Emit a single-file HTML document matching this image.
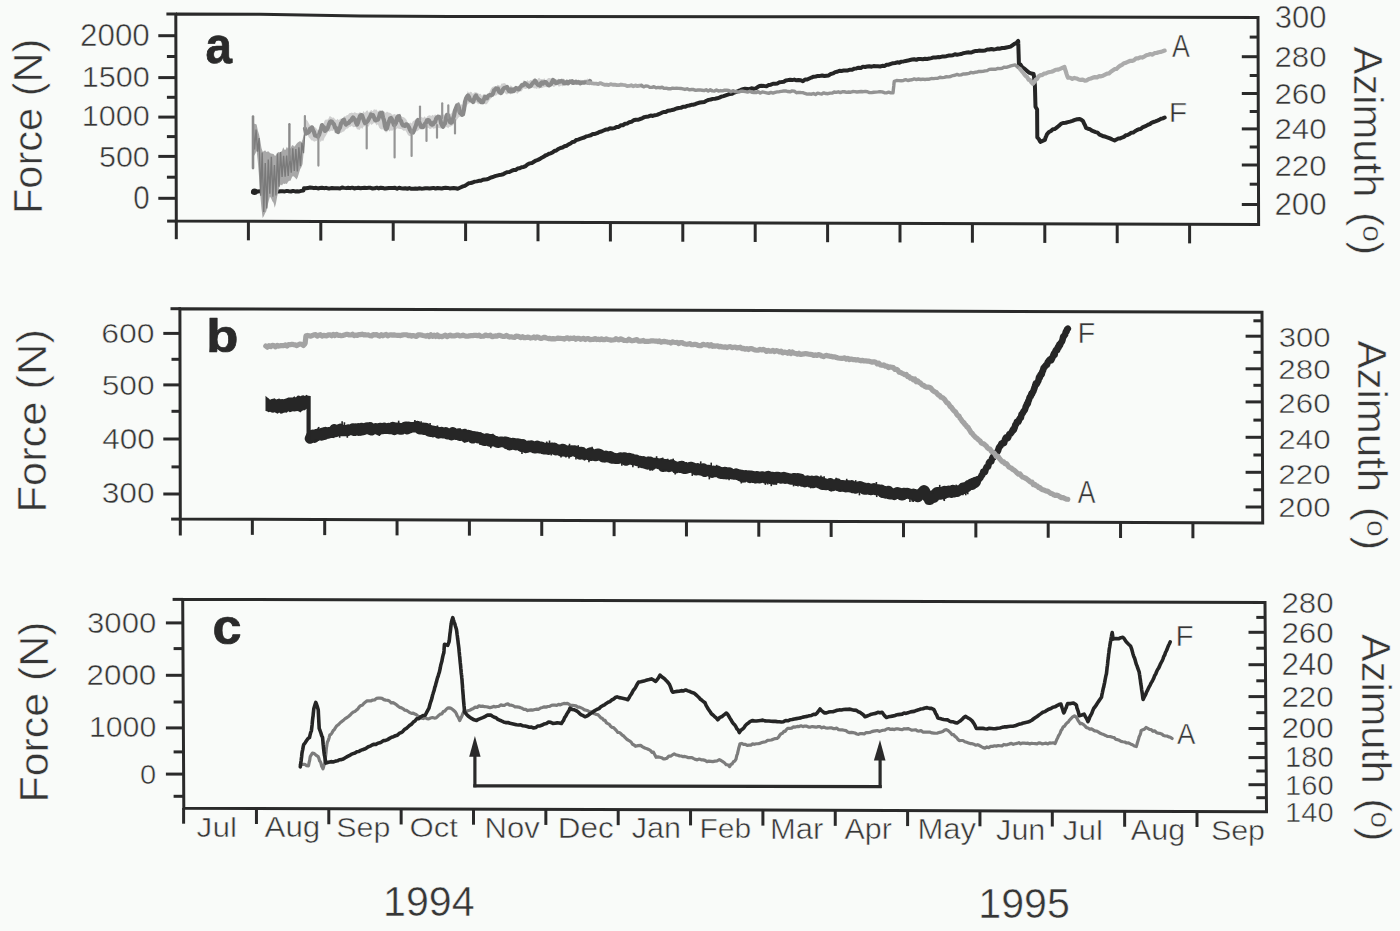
<!DOCTYPE html>
<html><head><meta charset="utf-8"><title>Force and azimuth records</title>
<style>
html,body{margin:0;padding:0;background:#f9fbf9;}
body{width:1400px;height:931px;overflow:hidden;}
svg{display:block;}
text{font-family:"Liberation Sans",sans-serif;font-kerning:none;stroke:#f9fbf9;stroke-width:0.5px;stroke-linejoin:round;}
</style></head><body>
<svg width="1400" height="931" viewBox="0 0 1400 931">
<rect x="0" y="0" width="1400" height="931" fill="#f9fbf9"/>
<polyline points="176,14.0 260,14.3 360,15.9 450,16.4 820,16.7 1060,17.0 1258,17.6 1258.6,224.6 176.3,221.1 175.8,14.0" fill="none" stroke="#2a2a2a" stroke-width="3" stroke-linejoin="miter"/>
<line x1="166.4" y1="14" x2="177" y2="14" stroke="#2a2a2a" stroke-width="3" stroke-linecap="butt"/>
<line x1="167.1" y1="221.1" x2="177" y2="221.1" stroke="#2a2a2a" stroke-width="3" stroke-linecap="butt"/>
<line x1="176.3" y1="221" x2="176.3" y2="239.2" stroke="#2a2a2a" stroke-width="3" stroke-linecap="butt"/>
<line x1="158.3" y1="35.7" x2="176" y2="35.7" stroke="#2a2a2a" stroke-width="3" stroke-linecap="butt"/>
<line x1="158.3" y1="77.6" x2="176" y2="77.6" stroke="#2a2a2a" stroke-width="3" stroke-linecap="butt"/>
<line x1="158.3" y1="117.1" x2="176" y2="117.1" stroke="#2a2a2a" stroke-width="3" stroke-linecap="butt"/>
<line x1="158.3" y1="156.4" x2="176" y2="156.4" stroke="#2a2a2a" stroke-width="3" stroke-linecap="butt"/>
<line x1="158.3" y1="198.3" x2="176" y2="198.3" stroke="#2a2a2a" stroke-width="3" stroke-linecap="butt"/>
<line x1="166.9" y1="56.5" x2="176" y2="56.5" stroke="#2a2a2a" stroke-width="3" stroke-linecap="butt"/>
<line x1="166.9" y1="97.3" x2="176" y2="97.3" stroke="#2a2a2a" stroke-width="3" stroke-linecap="butt"/>
<line x1="166.9" y1="136.6" x2="176" y2="136.6" stroke="#2a2a2a" stroke-width="3" stroke-linecap="butt"/>
<line x1="166.9" y1="177.2" x2="176" y2="177.2" stroke="#2a2a2a" stroke-width="3" stroke-linecap="butt"/>
<line x1="1241.8" y1="56.7" x2="1258" y2="56.7" stroke="#2a2a2a" stroke-width="3" stroke-linecap="butt"/>
<line x1="1241.8" y1="93.5" x2="1258" y2="93.5" stroke="#2a2a2a" stroke-width="3" stroke-linecap="butt"/>
<line x1="1241.8" y1="128.9" x2="1258" y2="128.9" stroke="#2a2a2a" stroke-width="3" stroke-linecap="butt"/>
<line x1="1241.8" y1="165" x2="1258" y2="165" stroke="#2a2a2a" stroke-width="3" stroke-linecap="butt"/>
<line x1="1241.8" y1="204.5" x2="1258" y2="204.5" stroke="#2a2a2a" stroke-width="3" stroke-linecap="butt"/>
<line x1="1249.7" y1="37.1" x2="1258" y2="37.1" stroke="#2a2a2a" stroke-width="3" stroke-linecap="butt"/>
<line x1="1249.7" y1="75.5" x2="1258" y2="75.5" stroke="#2a2a2a" stroke-width="3" stroke-linecap="butt"/>
<line x1="1249.7" y1="111.5" x2="1258" y2="111.5" stroke="#2a2a2a" stroke-width="3" stroke-linecap="butt"/>
<line x1="1249.7" y1="147" x2="1258" y2="147" stroke="#2a2a2a" stroke-width="3" stroke-linecap="butt"/>
<line x1="1249.7" y1="184.2" x2="1258" y2="184.2" stroke="#2a2a2a" stroke-width="3" stroke-linecap="butt"/>
<line x1="248.4" y1="221.33" x2="248.4" y2="240.33" stroke="#2a2a2a" stroke-width="3" stroke-linecap="butt"/>
<line x1="320.8" y1="221.57" x2="320.8" y2="240.57" stroke="#2a2a2a" stroke-width="3" stroke-linecap="butt"/>
<line x1="393.2" y1="221.8" x2="393.2" y2="240.8" stroke="#2a2a2a" stroke-width="3" stroke-linecap="butt"/>
<line x1="465.6" y1="222.04" x2="465.6" y2="241.04" stroke="#2a2a2a" stroke-width="3" stroke-linecap="butt"/>
<line x1="538" y1="222.27" x2="538" y2="241.27" stroke="#2a2a2a" stroke-width="3" stroke-linecap="butt"/>
<line x1="610.4" y1="222.5" x2="610.4" y2="241.5" stroke="#2a2a2a" stroke-width="3" stroke-linecap="butt"/>
<line x1="682.8" y1="222.74" x2="682.8" y2="241.74" stroke="#2a2a2a" stroke-width="3" stroke-linecap="butt"/>
<line x1="755.2" y1="222.97" x2="755.2" y2="241.97" stroke="#2a2a2a" stroke-width="3" stroke-linecap="butt"/>
<line x1="827.6" y1="223.21" x2="827.6" y2="242.21" stroke="#2a2a2a" stroke-width="3" stroke-linecap="butt"/>
<line x1="900" y1="223.44" x2="900" y2="242.44" stroke="#2a2a2a" stroke-width="3" stroke-linecap="butt"/>
<line x1="972.4" y1="223.67" x2="972.4" y2="242.67" stroke="#2a2a2a" stroke-width="3" stroke-linecap="butt"/>
<line x1="1044.8" y1="223.91" x2="1044.8" y2="242.91" stroke="#2a2a2a" stroke-width="3" stroke-linecap="butt"/>
<line x1="1117.2" y1="224.14" x2="1117.2" y2="243.14" stroke="#2a2a2a" stroke-width="3" stroke-linecap="butt"/>
<line x1="1189.6" y1="224.38" x2="1189.6" y2="243.38" stroke="#2a2a2a" stroke-width="3" stroke-linecap="butt"/>
<polygon points="179.9,308.7 1262,312.2 1262.7,523 180.3,519.1" fill="none" stroke="#2a2a2a" stroke-width="3" stroke-linejoin="miter"/>
<line x1="170.5" y1="308.7" x2="181" y2="308.7" stroke="#2a2a2a" stroke-width="3" stroke-linecap="butt"/>
<line x1="171.1" y1="519.1" x2="181" y2="519.1" stroke="#2a2a2a" stroke-width="3" stroke-linecap="butt"/>
<line x1="180.3" y1="519" x2="180.3" y2="535.5" stroke="#2a2a2a" stroke-width="3" stroke-linecap="butt"/>
<line x1="163.3" y1="333.4" x2="180" y2="333.4" stroke="#2a2a2a" stroke-width="3" stroke-linecap="butt"/>
<line x1="163.3" y1="384.9" x2="180" y2="384.9" stroke="#2a2a2a" stroke-width="3" stroke-linecap="butt"/>
<line x1="163.3" y1="439" x2="180" y2="439" stroke="#2a2a2a" stroke-width="3" stroke-linecap="butt"/>
<line x1="163.3" y1="494" x2="180" y2="494" stroke="#2a2a2a" stroke-width="3" stroke-linecap="butt"/>
<line x1="171.5" y1="359.3" x2="180" y2="359.3" stroke="#2a2a2a" stroke-width="3" stroke-linecap="butt"/>
<line x1="171.5" y1="411.3" x2="180" y2="411.3" stroke="#2a2a2a" stroke-width="3" stroke-linecap="butt"/>
<line x1="171.5" y1="466.9" x2="180" y2="466.9" stroke="#2a2a2a" stroke-width="3" stroke-linecap="butt"/>
<line x1="1245.6" y1="336.2" x2="1262" y2="336.2" stroke="#2a2a2a" stroke-width="3" stroke-linecap="butt"/>
<line x1="1245.6" y1="368.8" x2="1262" y2="368.8" stroke="#2a2a2a" stroke-width="3" stroke-linecap="butt"/>
<line x1="1245.6" y1="401.9" x2="1262" y2="401.9" stroke="#2a2a2a" stroke-width="3" stroke-linecap="butt"/>
<line x1="1245.6" y1="437.3" x2="1262" y2="437.3" stroke="#2a2a2a" stroke-width="3" stroke-linecap="butt"/>
<line x1="1245.6" y1="472.3" x2="1262" y2="472.3" stroke="#2a2a2a" stroke-width="3" stroke-linecap="butt"/>
<line x1="1245.6" y1="507" x2="1262" y2="507" stroke="#2a2a2a" stroke-width="3" stroke-linecap="butt"/>
<line x1="1253.4" y1="320.8" x2="1262" y2="320.8" stroke="#2a2a2a" stroke-width="3" stroke-linecap="butt"/>
<line x1="1253.4" y1="352.3" x2="1262" y2="352.3" stroke="#2a2a2a" stroke-width="3" stroke-linecap="butt"/>
<line x1="1253.4" y1="385.3" x2="1262" y2="385.3" stroke="#2a2a2a" stroke-width="3" stroke-linecap="butt"/>
<line x1="1253.4" y1="420.1" x2="1262" y2="420.1" stroke="#2a2a2a" stroke-width="3" stroke-linecap="butt"/>
<line x1="1253.4" y1="455" x2="1262" y2="455" stroke="#2a2a2a" stroke-width="3" stroke-linecap="butt"/>
<line x1="1253.4" y1="489.8" x2="1262" y2="489.8" stroke="#2a2a2a" stroke-width="3" stroke-linecap="butt"/>
<line x1="252.35" y1="519.36" x2="252.35" y2="534.86" stroke="#2a2a2a" stroke-width="3" stroke-linecap="butt"/>
<line x1="324.7" y1="519.62" x2="324.7" y2="535.12" stroke="#2a2a2a" stroke-width="3" stroke-linecap="butt"/>
<line x1="397.05" y1="519.88" x2="397.05" y2="535.38" stroke="#2a2a2a" stroke-width="3" stroke-linecap="butt"/>
<line x1="469.4" y1="520.14" x2="469.4" y2="535.64" stroke="#2a2a2a" stroke-width="3" stroke-linecap="butt"/>
<line x1="541.75" y1="520.4" x2="541.75" y2="535.9" stroke="#2a2a2a" stroke-width="3" stroke-linecap="butt"/>
<line x1="614.1" y1="520.66" x2="614.1" y2="536.16" stroke="#2a2a2a" stroke-width="3" stroke-linecap="butt"/>
<line x1="686.45" y1="520.92" x2="686.45" y2="536.42" stroke="#2a2a2a" stroke-width="3" stroke-linecap="butt"/>
<line x1="758.8" y1="521.18" x2="758.8" y2="536.68" stroke="#2a2a2a" stroke-width="3" stroke-linecap="butt"/>
<line x1="831.15" y1="521.45" x2="831.15" y2="536.95" stroke="#2a2a2a" stroke-width="3" stroke-linecap="butt"/>
<line x1="903.5" y1="521.71" x2="903.5" y2="537.21" stroke="#2a2a2a" stroke-width="3" stroke-linecap="butt"/>
<line x1="975.85" y1="521.97" x2="975.85" y2="537.47" stroke="#2a2a2a" stroke-width="3" stroke-linecap="butt"/>
<line x1="1048.2" y1="522.23" x2="1048.2" y2="537.73" stroke="#2a2a2a" stroke-width="3" stroke-linecap="butt"/>
<line x1="1120.55" y1="522.49" x2="1120.55" y2="537.99" stroke="#2a2a2a" stroke-width="3" stroke-linecap="butt"/>
<line x1="1192.9" y1="522.75" x2="1192.9" y2="538.25" stroke="#2a2a2a" stroke-width="3" stroke-linecap="butt"/>
<polygon points="182.7,599.4 1265,602.5 1266.5,811.7 183.8,808.3" fill="none" stroke="#2a2a2a" stroke-width="3" stroke-linejoin="miter"/>
<line x1="172.6" y1="599.4" x2="183" y2="599.4" stroke="#2a2a2a" stroke-width="3" stroke-linecap="butt"/>
<line x1="183.6" y1="808" x2="183.6" y2="823.7" stroke="#2a2a2a" stroke-width="3" stroke-linecap="butt"/>
<line x1="165.9" y1="622.9" x2="183" y2="622.9" stroke="#2a2a2a" stroke-width="3" stroke-linecap="butt"/>
<line x1="165.9" y1="675.3" x2="183" y2="675.3" stroke="#2a2a2a" stroke-width="3" stroke-linecap="butt"/>
<line x1="165.9" y1="727.9" x2="183" y2="727.9" stroke="#2a2a2a" stroke-width="3" stroke-linecap="butt"/>
<line x1="165.9" y1="774.1" x2="183" y2="774.1" stroke="#2a2a2a" stroke-width="3" stroke-linecap="butt"/>
<line x1="173.6" y1="648.6" x2="183" y2="648.6" stroke="#2a2a2a" stroke-width="3" stroke-linecap="butt"/>
<line x1="173.6" y1="702" x2="183" y2="702" stroke="#2a2a2a" stroke-width="3" stroke-linecap="butt"/>
<line x1="173.6" y1="751.9" x2="183" y2="751.9" stroke="#2a2a2a" stroke-width="3" stroke-linecap="butt"/>
<line x1="173.6" y1="796.3" x2="183" y2="796.3" stroke="#2a2a2a" stroke-width="3" stroke-linecap="butt"/>
<line x1="1248.5" y1="632.3" x2="1265.5" y2="632.3" stroke="#2a2a2a" stroke-width="3" stroke-linecap="butt"/>
<line x1="1248.5" y1="664.7" x2="1265.5" y2="664.7" stroke="#2a2a2a" stroke-width="3" stroke-linecap="butt"/>
<line x1="1248.5" y1="696.6" x2="1265.5" y2="696.6" stroke="#2a2a2a" stroke-width="3" stroke-linecap="butt"/>
<line x1="1248.5" y1="728.5" x2="1265.5" y2="728.5" stroke="#2a2a2a" stroke-width="3" stroke-linecap="butt"/>
<line x1="1248.5" y1="757.6" x2="1265.5" y2="757.6" stroke="#2a2a2a" stroke-width="3" stroke-linecap="butt"/>
<line x1="1248.5" y1="784.7" x2="1265.5" y2="784.7" stroke="#2a2a2a" stroke-width="3" stroke-linecap="butt"/>
<line x1="1256.3" y1="617.4" x2="1265.5" y2="617.4" stroke="#2a2a2a" stroke-width="3" stroke-linecap="butt"/>
<line x1="1256.3" y1="648.2" x2="1265.5" y2="648.2" stroke="#2a2a2a" stroke-width="3" stroke-linecap="butt"/>
<line x1="1256.3" y1="680.8" x2="1265.5" y2="680.8" stroke="#2a2a2a" stroke-width="3" stroke-linecap="butt"/>
<line x1="1256.3" y1="712.7" x2="1265.5" y2="712.7" stroke="#2a2a2a" stroke-width="3" stroke-linecap="butt"/>
<line x1="1256.3" y1="743.4" x2="1265.5" y2="743.4" stroke="#2a2a2a" stroke-width="3" stroke-linecap="butt"/>
<line x1="1256.3" y1="771" x2="1265.5" y2="771" stroke="#2a2a2a" stroke-width="3" stroke-linecap="butt"/>
<line x1="1256.3" y1="797.7" x2="1265.5" y2="797.7" stroke="#2a2a2a" stroke-width="3" stroke-linecap="butt"/>
<line x1="256.45" y1="808.53" x2="256.45" y2="824.03" stroke="#2a2a2a" stroke-width="3" stroke-linecap="butt"/>
<line x1="328.8" y1="808.76" x2="328.8" y2="824.26" stroke="#2a2a2a" stroke-width="3" stroke-linecap="butt"/>
<line x1="401.15" y1="808.98" x2="401.15" y2="824.48" stroke="#2a2a2a" stroke-width="3" stroke-linecap="butt"/>
<line x1="473.5" y1="809.21" x2="473.5" y2="824.71" stroke="#2a2a2a" stroke-width="3" stroke-linecap="butt"/>
<line x1="545.85" y1="809.44" x2="545.85" y2="824.94" stroke="#2a2a2a" stroke-width="3" stroke-linecap="butt"/>
<line x1="618.2" y1="809.66" x2="618.2" y2="825.16" stroke="#2a2a2a" stroke-width="3" stroke-linecap="butt"/>
<line x1="690.55" y1="809.89" x2="690.55" y2="825.39" stroke="#2a2a2a" stroke-width="3" stroke-linecap="butt"/>
<line x1="762.9" y1="810.12" x2="762.9" y2="825.62" stroke="#2a2a2a" stroke-width="3" stroke-linecap="butt"/>
<line x1="835.25" y1="810.35" x2="835.25" y2="825.85" stroke="#2a2a2a" stroke-width="3" stroke-linecap="butt"/>
<line x1="907.6" y1="810.57" x2="907.6" y2="826.07" stroke="#2a2a2a" stroke-width="3" stroke-linecap="butt"/>
<line x1="979.95" y1="810.8" x2="979.95" y2="826.3" stroke="#2a2a2a" stroke-width="3" stroke-linecap="butt"/>
<line x1="1052.3" y1="811.03" x2="1052.3" y2="826.53" stroke="#2a2a2a" stroke-width="3" stroke-linecap="butt"/>
<line x1="1124.65" y1="811.25" x2="1124.65" y2="826.75" stroke="#2a2a2a" stroke-width="3" stroke-linecap="butt"/>
<line x1="1197" y1="811.48" x2="1197" y2="826.98" stroke="#2a2a2a" stroke-width="3" stroke-linecap="butt"/>
<text transform="translate(80.12,46) scale(1.0176,1)" font-size="30.79" font-weight="normal" fill="#363636">2000</text>
<text transform="translate(81.67,87.31) scale(1.0325,1)" font-size="29.66" font-weight="normal" fill="#363636">1500</text>
<text transform="translate(81.77,126.22) scale(1.0612,1)" font-size="28.81" font-weight="normal" fill="#363636">1000</text>
<text transform="translate(98.98,166.91) scale(1.0366,1)" font-size="29.38" font-weight="normal" fill="#363636">500</text>
<text transform="translate(133.35,209.28) scale(0.9119,1)" font-size="32.34" font-weight="normal" fill="#363636">0</text>
<text transform="translate(1274.82,28.29) scale(0.9880,1)" font-size="31.36" font-weight="normal" fill="#363636">300</text>
<text transform="translate(1274.43,66.71) scale(1.0378,1)" font-size="30.08" font-weight="normal" fill="#363636">280</text>
<text transform="translate(1274.43,103.61) scale(1.0627,1)" font-size="29.38" font-weight="normal" fill="#363636">260</text>
<text transform="translate(1274.43,138.91) scale(1.0627,1)" font-size="29.38" font-weight="normal" fill="#363636">240</text>
<text transform="translate(1274.43,176.11) scale(1.0378,1)" font-size="30.08" font-weight="normal" fill="#363636">220</text>
<text transform="translate(1274.43,214.7) scale(1.0093,1)" font-size="30.93" font-weight="normal" fill="#363636">200</text>
<text transform="translate(101.28,343.13) scale(1.1439,1)" font-size="27.97" font-weight="normal" fill="#363636">600</text>
<text transform="translate(101.63,394.74) scale(1.1778,1)" font-size="26.98" font-weight="normal" fill="#363636">500</text>
<text transform="translate(102.18,449.1) scale(1.0352,1)" font-size="30.37" font-weight="normal" fill="#363636">400</text>
<text transform="translate(101.69,502.92) scale(1.0960,1)" font-size="28.95" font-weight="normal" fill="#363636">300</text>
<text transform="translate(1278.72,346.63) scale(1.1123,1)" font-size="27.97" font-weight="normal" fill="#363636">300</text>
<text transform="translate(1278.32,379.43) scale(1.1209,1)" font-size="27.97" font-weight="normal" fill="#363636">280</text>
<text transform="translate(1278.32,412.63) scale(1.1209,1)" font-size="27.97" font-weight="normal" fill="#363636">260</text>
<text transform="translate(1278.32,449.03) scale(1.1209,1)" font-size="27.97" font-weight="normal" fill="#363636">240</text>
<text transform="translate(1278.32,484.23) scale(1.1209,1)" font-size="27.97" font-weight="normal" fill="#363636">220</text>
<text transform="translate(1278.32,517.23) scale(1.1209,1)" font-size="27.97" font-weight="normal" fill="#363636">200</text>
<text transform="translate(87.01,633.32) scale(1.0812,1)" font-size="28.81" font-weight="normal" fill="#363636">3000</text>
<text transform="translate(86.62,685.3) scale(1.0366,1)" font-size="30.23" font-weight="normal" fill="#363636">2000</text>
<text transform="translate(88.89,737.41) scale(1.0262,1)" font-size="29.52" font-weight="normal" fill="#363636">1000</text>
<text transform="translate(140.06,783.92) scale(1.0294,1)" font-size="28.25" font-weight="normal" fill="#363636">0</text>
<text transform="translate(1281.42,613.32) scale(1.0879,1)" font-size="28.81" font-weight="normal" fill="#363636">280</text>
<text transform="translate(1281.42,642.61) scale(1.0420,1)" font-size="30.08" font-weight="normal" fill="#363636">260</text>
<text transform="translate(1281.42,675.1) scale(1.0181,1)" font-size="30.79" font-weight="normal" fill="#363636">240</text>
<text transform="translate(1281.42,707.3) scale(1.0323,1)" font-size="30.37" font-weight="normal" fill="#363636">220</text>
<text transform="translate(1281.42,738.3) scale(1.0323,1)" font-size="30.37" font-weight="normal" fill="#363636">200</text>
<text transform="translate(1284.98,767.21) scale(0.9880,1)" font-size="29.52" font-weight="normal" fill="#363636">180</text>
<text transform="translate(1284.98,794.72) scale(1.0222,1)" font-size="28.53" font-weight="normal" fill="#363636">160</text>
<text transform="translate(1284.98,821.53) scale(1.0644,1)" font-size="27.40" font-weight="normal" fill="#363636">140</text>
<text transform="translate(41.8,214.01) rotate(-90) scale(1.0243,1)" font-size="40.55" fill="#363636">Force (N)</text>
<text transform="translate(46.2,512.56) rotate(-90) scale(1.0715,1)" font-size="40.55" fill="#363636">Force (N)</text>
<text transform="translate(48.3,802.52) rotate(-90) scale(1.0582,1)" font-size="40.55" fill="#363636">Force (N)</text>
<text transform="translate(1354.4,46.62) rotate(90) scale(1.0113,1)" font-size="41.28" fill="#363636">Azimuth</text>
<text transform="translate(1354.4,212.21) rotate(90) scale(1.0113,1)" font-size="41.28" fill="#363636">(</text>
<text transform="translate(1354.4,241.29) rotate(90) scale(1.0113,1)" font-size="41.28" fill="#363636">)</text>
<text transform="translate(1363.47,225.14) rotate(90) scale(1.0638,1)" font-size="28.27" fill="#363636">o</text>
<text transform="translate(1358.3,340.52) rotate(90) scale(1.0208,1)" font-size="41.13" fill="#363636">Azimuth</text>
<text transform="translate(1358.3,507.08) rotate(90) scale(1.0208,1)" font-size="41.13" fill="#363636">(</text>
<text transform="translate(1358.3,536.32) rotate(90) scale(1.0208,1)" font-size="41.13" fill="#363636">)</text>
<text transform="translate(1367.34,520.08) rotate(90) scale(1.0738,1)" font-size="28.17" fill="#363636">o</text>
<text transform="translate(1362.2,634.12) rotate(90) scale(1.0079,1)" font-size="41.13" fill="#363636">Azimuth</text>
<text transform="translate(1362.2,798.59) rotate(90) scale(1.0079,1)" font-size="41.13" fill="#363636">(</text>
<text transform="translate(1362.2,827.46) rotate(90) scale(1.0079,1)" font-size="41.13" fill="#363636">)</text>
<text transform="translate(1371.24,811.42) rotate(90) scale(1.0603,1)" font-size="28.17" fill="#363636">o</text>
<text transform="translate(205.4,62.9) scale(0.9321,1)" font-size="51.11" font-weight="bold" fill="#2a2a2a" style="stroke:#2a2a2a;stroke-width:0.7px">a</text>
<text transform="translate(206.13,352.46) scale(1.1598,1)" font-size="45.34" font-weight="bold" fill="#2a2a2a" style="stroke:#2a2a2a;stroke-width:0.7px">b</text>
<text transform="translate(212.46,644.21) scale(1.0377,1)" font-size="50.38" font-weight="bold" fill="#2a2a2a" style="stroke:#2a2a2a;stroke-width:0.7px">c</text>
<text transform="translate(1172.05,57.1) scale(0.8622,1)" font-size="30.96" font-weight="normal" fill="#363636">A</text>
<text transform="translate(1168.72,122.1) scale(1.0683,1)" font-size="28.34" font-weight="normal" fill="#363636">F</text>
<text transform="translate(1077.62,343) scale(0.9564,1)" font-size="30.38" font-weight="normal" fill="#363636">F</text>
<text transform="translate(1077.65,503.2) scale(0.8493,1)" font-size="31.25" font-weight="normal" fill="#363636">A</text>
<text transform="translate(1175.47,645.8) scale(1.0054,1)" font-size="29.51" font-weight="normal" fill="#363636">F</text>
<text transform="translate(1176.95,744) scale(0.9541,1)" font-size="28.92" font-weight="normal" fill="#363636">A</text>
<text transform="translate(196.61,836.6) scale(1.1568,1)" font-size="27.33" font-weight="normal" fill="#363636">Jul</text>
<text transform="translate(264.54,836.87) scale(1.0893,1)" font-size="28.78" font-weight="normal" fill="#363636">Aug</text>
<text transform="translate(336.32,837.13) scale(1.0713,1)" font-size="28.36" font-weight="normal" fill="#363636">Sep</text>
<text transform="translate(409.42,837.39) scale(1.0995,1)" font-size="28.36" font-weight="normal" fill="#363636">Oct</text>
<text transform="translate(484.55,837.68) scale(1.0796,1)" font-size="28.78" font-weight="normal" fill="#363636">Nov</text>
<text transform="translate(557.72,837.94) scale(1.0945,1)" font-size="28.78" font-weight="normal" fill="#363636">Dec</text>
<text transform="translate(631.82,838.19) scale(1.0616,1)" font-size="28.78" font-weight="normal" fill="#363636">Jan</text>
<text transform="translate(699.54,838.45) scale(1.0985,1)" font-size="27.33" font-weight="normal" fill="#363636">Feb</text>
<text transform="translate(770.06,838.71) scale(1.0765,1)" font-size="28.78" font-weight="normal" fill="#363636">Mar</text>
<text transform="translate(844.54,838.96) scale(1.0576,1)" font-size="28.78" font-weight="normal" fill="#363636">Apr</text>
<text transform="translate(917.46,839.25) scale(1.0779,1)" font-size="28.78" font-weight="normal" fill="#363636">May</text>
<text transform="translate(996.12,839.51) scale(1.0616,1)" font-size="28.78" font-weight="normal" fill="#363636">Jun</text>
<text transform="translate(1062.61,839.74) scale(1.1568,1)" font-size="27.33" font-weight="normal" fill="#363636">Jul</text>
<text transform="translate(1130.84,840.01) scale(1.0609,1)" font-size="28.78" font-weight="normal" fill="#363636">Aug</text>
<text transform="translate(1210.92,840.3) scale(1.0713,1)" font-size="28.36" font-weight="normal" fill="#363636">Sep</text>
<text transform="translate(383.06,915.58) scale(0.9501,1)" font-size="43.36" font-weight="normal" fill="#363636">1994</text>
<text transform="translate(978.26,917.88) scale(0.9661,1)" font-size="42.65" font-weight="normal" fill="#363636">1995</text>
<line x1="474.9" y1="756" x2="474.9" y2="787.3" stroke="#2a2a2a" stroke-width="3.2" stroke-linecap="butt"/>
<line x1="473.3" y1="785.8" x2="881.7" y2="786.6" stroke="#2a2a2a" stroke-width="3.2" stroke-linecap="butt"/>
<line x1="880.1" y1="788" x2="880.1" y2="759" stroke="#2a2a2a" stroke-width="3.2" stroke-linecap="butt"/>
<polygon points="474.9,735.9 469.2,756.8 480.6,756.8" fill="#2a2a2a" />
<polygon points="880,739.9 873.9,760.5 885.5,760.5" fill="#2a2a2a" />
<polyline points="252.9,192.09 255.27,192.02 257.63,191.59 260,191.26 262.07,190.98 264.13,191.62 266.2,191.4 268.27,191.66 270.33,191.25 272.4,191.63 274.47,191.11 276.53,191.61 278.6,191.52 280.67,191.18 282.73,191.28 284.8,191.4 286.87,190.88 288.93,191.22 291,191.45 293.07,190.88 295.13,191.4 297.2,191.26 299.27,191.39 301.33,190.86 303.4,190.59 304,188.3 306,188.3 308,187.95 310,187.59 312,187.7 314,188.13 316,187.79 318,188.45 320,188.09 322,187.7 324,188.16 326,187.86 328,188.43 330,188.41 332,188.01 334,188.14 336,188.2 338,188.31 340,188.48 342.04,187.54 344.08,187.88 346.12,188.13 348.16,187.84 350.2,188.13 352.24,187.64 354.28,188.44 356.32,188.09 358.36,187.69 360.4,188.25 362.44,187.91 364.48,187.8 366.52,188.1 368.56,187.76 370.6,187.84 372.64,188.5 374.68,188.34 376.72,187.67 378.76,188.44 380.8,187.69 382.84,188.01 384.88,188.59 386.92,188.32 388.96,188.01 391,188.09 393.04,188.11 395.08,187.86 397.12,188.74 399.16,187.8 401.2,188.18 403.24,188.51 405.28,188.17 407.32,188.76 409.36,188.04 411.4,188.78 413.41,188.69 415.43,188.47 417.44,188.69 419.45,188.25 421.47,188.63 423.48,188.6 425.49,188.32 427.5,188.27 429.52,188.51 431.53,188.21 433.54,187.89 435.56,188.55 437.57,188.07 439.58,188.29 441.6,188.58 443.61,187.97 445.62,187.82 447.63,187.92 449.65,188.39 451.66,188.16 453.67,188.06 455.69,188.25 457.7,188.73 461,187.25 462.9,186.41 464.8,185.88 466.7,184.61 468.6,183.27 470.64,182.97 472.69,182.48 474.73,181.64 476.77,181.38 478.81,180.81 480.86,180.8 482.9,179.82 484.91,179.54 486.93,179.24 488.94,178.58 490.96,177.42 492.97,177.03 494.99,176.13 497,175.6 499.06,175.07 501.11,174.76 503.17,174.29 505.23,173.03 507.29,172.13 509.34,171.96 511.4,170.96 513.44,170.12 515.49,170.05 517.53,168.57 519.57,168.36 521.61,167.19 523.66,166.95 525.7,166.05 527.74,164.25 529.79,163.36 531.83,163.1 533.87,161.76 535.91,160.55 537.96,159.9 540,158.91 541.79,157.69 543.58,156.77 545.36,155.5 547.15,154.86 548.94,153.74 550.72,153.33 552.51,152.41 554.3,151.04 556.34,150.51 558.39,148.97 560.43,147.96 562.47,147.49 564.51,146.29 566.56,145.71 568.6,144.43 570.5,143.53 572.4,141.99 574.3,141.73 576.2,140.02 578.1,139.58 580,138.91 582.15,138.21 584.3,137.49 586.45,136.35 588.6,135.89 590.75,135.29 592.9,133.94 595.03,133.99 597.17,133.21 599.3,131.99 601.43,131.58 603.57,130.5 605.7,129.58 607.85,129.48 610,128.3 612.15,128.5 614.3,128.14 616.45,126.92 618.6,127.04 620.73,125.32 622.87,125.22 625,123.78 627.13,123.6 629.27,122.2 631.4,121.82 633.55,120.3 635.7,119.72 637.85,119.82 640,119.01 642.15,118.27 644.3,117.13 646.43,116.74 648.57,116.4 650.7,115.55 652.83,115.96 654.97,115.2 657.1,114.85 659.25,113.95 661.4,112.94 663.55,112.03 665.7,112.03 667.85,110.76 670,110.55 672.15,109.93 674.3,109.43 676.45,108.48 678.6,107.94 680.75,107.85 682.9,106.83 685.03,106.79 687.17,105.88 689.3,105.48 691.43,104.82 693.57,104.7 695.7,103.99 697.85,103.17 700,102.52 702.15,102.21 704.3,101.91 706.45,100.77 708.6,99.86 710.73,99.48 712.87,98.87 715,98.67 717.13,98.35 719.27,97.6 721.4,96.69 723.55,96.08 725.7,95.38 727.85,94.69 730,93.9 732.15,93.75 734.3,92.55 736.45,91.76 738.6,90.92 740.75,89.95 742.9,89.21 745.05,88.71 747.2,88.93 749.35,89.17 751.5,88.3 753.65,88.69 755.8,88.38 757.67,87.06 759.53,86.04 761.4,85.76 764.4,86.11 766.55,86.15 768.7,84.98 770.85,84.68 773,83.78 775.15,83.73 777.3,83.41 779.45,82.29 781.6,82.07 783.7,81.8 785.8,80.54 787.9,80.1 790,79.72 792.15,80.08 794.3,79.6 796.45,80.31 798.6,79.99 800.75,80.2 802.9,81.28 805.04,79.49 807.18,79.5 809.32,78.47 811.46,77.54 813.6,76.73 815.76,76.47 817.91,75.92 820.07,75.89 822.23,75.46 824.39,75.93 826.54,75.66 828.7,75.49 830.84,73.97 832.98,73.41 835.12,72.13 837.26,71.73 839.4,70.74 841.52,70.92 843.64,70.55 845.76,70.44 847.88,70.46 850,69.69 852.15,69.7 854.3,68.63 856.45,68.47 858.6,67.72 860.75,68.05 862.9,66.63 865.05,67.02 867.2,66.55 869.35,66.17 871.5,66.7 873.65,66.05 875.8,66.27 877.95,66.28 880.1,66.47 882.25,65.84 884.4,66.09 886.55,64.79 888.7,64.72 890.85,63.84 893,63.13 895.12,62.98 897.25,62.31 899.38,62.66 901.5,61.63 903.62,61.41 905.75,60.94 907.88,60.56 910,59.98 912.14,59.58 914.28,59.26 916.42,59.82 918.56,58.93 920.7,59 922.84,59.17 924.98,58.75 927.12,58.93 929.26,58.6 931.4,58.11 933.54,57.4 935.68,57.56 937.83,57.12 939.97,57.2 942.11,56.55 944.25,56.39 946.39,56.19 948.53,55.54 950.67,55.59 952.82,55.33 954.96,54.27 957.1,54.72 959.08,54.37 961.07,54.05 963.05,53.24 965.04,52.85 967.02,52.43 969.01,52.37 970.99,52.56 972.98,51.76 974.96,51.11 976.95,51.1 978.93,50.58 980.92,50.82 982.9,50.67 985.04,50.56 987.18,49.46 989.33,49.48 991.47,48.96 993.61,49.48 995.75,49.14 997.89,48.55 1000.03,48.72 1002.17,48.02 1004.32,48.01 1006.46,47.45 1008.6,47.06 1010.52,46.57 1012.45,45.29 1014.38,43.92 1016.3,43.07 1018.2,40.95 1018.26,43.14 1018.33,44.46 1018.39,46.57 1018.45,48.59 1018.52,51.13 1018.58,53.29 1018.65,54.77 1018.71,57.17 1018.77,58.82 1018.84,61.44 1018.9,63.58 1020.5,64.49 1022.1,66.98 1023.7,68.26 1025.3,69.32 1027.2,71.15 1029.1,72.56 1031.35,73.48 1033.6,74.02 1033.86,75.56 1034.12,77.84 1034.38,80.57 1034.64,83.08 1034.9,85.24 1034.95,86.96 1035.01,88.61 1035.06,91.11 1035.12,92.96 1035.17,95.3 1035.23,97.07 1035.28,99.23 1035.34,101.47 1035.39,103.13 1035.45,105.41 1035.5,106.77 1037.1,109.5 1037.12,112.46 1037.13,113.68 1037.15,116.72 1037.16,118.26 1037.18,119.95 1037.19,122.24 1037.21,124.76 1037.22,126.5 1037.24,128.82 1037.25,130.37 1037.27,133.18 1037.28,134.8 1037.3,137.33 1038.8,139 1040.3,141.87 1042.6,140.82 1044.9,139.9 1045.63,137.42 1046.37,135.83 1047.1,134.04 1049.03,131.97 1050.97,130.98 1052.9,129.21 1054.6,129.05 1056.3,127.89 1058,126.46 1059.7,125.12 1061.4,123.57 1063.55,122.9 1065.7,122.76 1067.85,122.12 1070,121.59 1072.42,120.91 1074.85,119.94 1077.28,119.21 1079.7,118.94 1081.4,119.85 1083.1,121.14 1084.07,123.58 1085.03,125.25 1086,127.88 1088,128.77 1090,129.25 1091.9,130.71 1093.8,131.39 1095.7,132.12 1097.6,132.64 1099.5,134.65 1101.4,135.4 1103.55,136.31 1105.7,136.82 1107.85,137.56 1110,138.41 1112.3,139.51 1114.6,140.5 1116.45,139.51 1118.31,138.57 1120.16,138.39 1122.02,137.52 1123.87,136.85 1125.73,135.34 1127.58,135.01 1129.44,134.03 1131.29,132.68 1133.15,132.62 1135,131.26 1136.86,130.15 1138.72,129.22 1140.58,129.03 1142.44,127.4 1144.3,126.63 1146.16,125.87 1148.02,124.75 1149.88,124.12 1151.74,122.62 1153.6,122.03 1155.45,121.42 1157.3,120.69 1159.15,119.91 1161,118.8 1162.85,118.4 1164.7,117.5" fill="none" stroke="#252525" stroke-width="4" stroke-linejoin="round" stroke-linecap="round" />
<circle cx="254.5" cy="191.8" r="3.3" fill="#252525"/>
<polygon points="253,120.86 254.21,123.78 255.42,124.05 256.63,124.59 257.84,130.41 259.05,134.61 260.26,140.4 261.47,148.01 262.67,151.75 263.88,151.31 265.09,150.36 266.3,152.02 267.51,151.55 268.72,151.46 269.93,152.98 271.14,153.5 272.35,153.73 273.56,153.89 274.77,155.8 275.98,155.62 277.19,153.06 278.4,151.98 279.6,152.41 280.81,151.65 282.02,150.98 283.23,147.26 284.44,149.76 285.65,149.75 286.86,146.8 288.07,148.69 289.28,146.4 290.49,148.69 291.7,145.65 292.91,145.09 294.12,146.68 295.33,145.46 296.53,143.67 297.74,142.6 298.95,141.66 300.16,141.05 301.37,142.42 302.58,139.52 303.79,134.27 305,129.06 305,134.43 303.79,150.43 302.58,164.06 301.37,167.3 300.16,169.19 298.95,173.13 297.74,177.29 296.53,179.49 295.33,178.09 294.12,176.74 292.91,175.98 291.7,177.83 290.49,180.65 289.28,180.67 288.07,181.77 286.86,184.01 285.65,183.54 284.44,183.99 283.23,183.43 282.02,185.57 280.81,184.41 279.6,186.33 278.4,190.64 277.19,196.41 275.98,203.15 274.77,207.75 273.56,202.79 272.35,201.14 271.14,198.26 269.93,196.56 268.72,201.1 267.51,206.12 266.3,211.26 265.09,213.23 263.88,215.93 262.67,217.89 261.47,208.46 260.26,194.56 259.05,176.83 257.84,162.1 256.63,150.78 255.42,153.42 254.21,155.48 253,158.18" fill="#a8a8a8" />
<polyline points="253,123.4 254.53,149.45 256.06,129.45 257.59,151.71 259.12,138.12 260.65,195.68 262.18,152.54 263.71,212.06 265.24,163.04 266.76,208.51 268.29,159.47 269.82,193.74 271.35,156.8 272.88,196.71 274.41,164.95 275.94,195.36 277.47,153.54 279,186.72 280.53,152.09 282.06,176.91 283.59,155.89 285.12,176.79 286.65,155.47 288.18,175.92 289.71,155.42 291.24,172.71 292.76,148.34 294.29,170.97 295.82,149.14 297.35,171.57 298.88,147.19 300.41,166.22 301.94,142.79 303.47,153.23 305,128.47" fill="none" stroke="#7a7a7a" stroke-width="1.4" stroke-linejoin="miter" stroke-linecap="butt" />
<polyline points="253,116.6 253,168.1" fill="none" stroke="#8a8a8a" stroke-width="2.6" stroke-linejoin="round" stroke-linecap="round" />
<polyline points="289.4,124.3 289.4,160" fill="none" stroke="#8a8a8a" stroke-width="2.4" stroke-linejoin="round" stroke-linecap="round" />
<polygon points="305,115.92 306.3,119.75 307.6,121.04 308.9,123.39 310.21,125.45 311.51,125.87 312.81,125.61 314.11,126.74 315.41,127.52 316.71,128.65 318.01,130.49 319.32,129.86 320.62,125.37 321.92,124.56 323.22,124.67 324.52,120.78 325.82,119.58 327.12,119.77 328.42,118.73 329.73,115.88 331.03,116.65 332.33,117.68 333.63,117.49 334.93,118.96 336.23,120.15 337.53,118.73 338.84,120.17 340.14,118.76 341.44,118.73 342.74,119.29 344.04,116.16 345.34,116.58 346.64,115.18 347.95,114.9 349.25,113.26 350.55,112.99 351.85,112.46 353.15,113.28 354.45,112.3 355.75,112.67 357.05,113.36 358.36,113.27 359.66,112.23 360.96,112.58 362.26,113.43 363.56,110.91 364.86,112.91 366.16,111.03 367.47,110.13 368.77,112.66 370.07,110.93 371.37,110.09 372.67,111.32 373.97,109.22 375.27,109.8 376.58,109.48 377.88,111.7 379.18,110.22 380.48,110.5 381.78,111.54 383.08,112.43 384.38,111.5 385.68,112.95 386.99,111.47 388.29,112.52 389.59,112.75 390.89,113.34 392.19,114.64 393.49,114.39 394.79,114.1 396.1,114.93 397.4,113.84 398.7,115.23 400,113.3 401.3,116.19 402.6,116.96 403.9,117.32 405.21,118.3 406.51,119.67 407.81,122.86 409.11,123.13 410.41,122.58 411.71,123.38 413.01,121.09 414.32,120.4 415.62,118.92 416.92,118.51 418.22,119.04 419.52,119.34 420.82,116.4 422.12,117.41 423.42,117.85 424.73,116.34 426.03,118.23 427.33,116.25 428.63,115.54 429.93,115.37 431.23,115.93 432.53,114.63 433.84,115.68 435.14,114.32 436.44,115.85 437.74,113.68 439.04,114.99 440.34,114.52 441.64,115.42 442.95,114.54 444.25,114.7 445.55,114 446.85,113.42 448.15,113.18 449.45,113.26 450.75,113.9 452.05,112.56 453.36,109.18 454.66,108.96 455.96,104.91 457.26,105.32 458.56,104.39 459.86,104.44 461.16,104.35 462.47,104.83 463.77,104.19 465.07,98.76 466.37,97.44 467.67,91.07 468.97,92.91 470.27,91.76 471.58,91.99 472.88,94.06 474.18,92.49 475.48,92.28 476.78,92.53 478.08,93.27 479.38,93.95 480.68,93.84 481.99,96.04 483.29,93.93 484.59,95.4 485.89,95.54 487.19,96.18 488.49,93.47 489.79,91.25 491.1,88.38 492.4,87.07 493.7,86.62 495,86.32 496.3,86.52 497.6,84.84 498.9,85.28 500.21,85.88 501.51,83.45 502.81,83.42 504.11,83.09 505.41,83.45 506.71,85.33 508.01,86.73 509.32,87.06 510.62,85.26 511.92,86.36 513.22,87.57 514.52,87.3 515.82,85.99 517.12,86.24 518.42,86.53 519.73,85.53 521.03,82.78 522.33,82.84 523.63,80.23 524.93,80.79 526.23,81.62 527.53,80 528.84,81.4 530.14,80.1 531.44,80.36 532.74,79.4 534.04,79.31 535.34,78.37 536.64,80.68 537.95,78.42 539.25,77.8 540.55,79.3 541.85,79.04 543.15,79.13 544.45,78.33 545.75,80.39 547.05,78.91 548.36,77.92 549.66,78.01 550.96,78.5 552.26,80.21 553.56,78.4 554.86,78.59 556.16,79.42 557.47,79.58 558.77,78.4 560.07,80.71 561.37,78.34 562.67,78.76 563.97,78.7 565.27,80 566.58,79.94 567.88,81.14 569.18,81.16 570.48,79.8 571.78,80.55 573.08,79.12 574.38,80.58 575.68,80.39 576.99,80.54 578.29,79.32 579.59,81.07 580.89,79.57 582.19,81.11 583.49,80.91 584.79,79.34 586.1,79.64 587.4,78.55 588.7,79.32 590,78.77 590,86 588.7,83.94 587.4,83.79 586.1,83.56 584.79,84.15 583.49,84.6 582.19,83.76 580.89,86.17 579.59,85.61 578.29,83.28 576.99,84.24 575.68,84.99 574.38,84.61 573.08,84.66 571.78,85.3 570.48,84.09 569.18,84.28 567.88,84.64 566.58,84.87 565.27,85.51 563.97,84.35 562.67,86.45 561.37,85.41 560.07,86.28 558.77,86.85 557.47,84.89 556.16,84.97 554.86,86.46 553.56,87.05 552.26,86.12 550.96,86.43 549.66,86.51 548.36,86.9 547.05,87.23 545.75,87 544.45,87.23 543.15,87.46 541.85,88.27 540.55,87.15 539.25,88.91 537.95,87.96 536.64,88.93 535.34,88.32 534.04,88.54 532.74,87.39 531.44,88.31 530.14,87.28 528.84,89.67 527.53,87.84 526.23,88.97 524.93,88.93 523.63,88.15 522.33,90.2 521.03,91.7 519.73,90.74 518.42,92.68 517.12,93.97 515.82,92.1 514.52,93.2 513.22,93.41 511.92,92.64 510.62,94.68 509.32,91.87 508.01,93.91 506.71,94.45 505.41,93.49 504.11,92.35 502.81,92.06 501.51,92.51 500.21,92.87 498.9,95.03 497.6,94.28 496.3,95.4 495,95.72 493.7,95.42 492.4,95.78 491.1,98.32 489.79,99.75 488.49,101.81 487.19,103.75 485.89,104.45 484.59,103.85 483.29,104.55 481.99,104.32 480.68,103.44 479.38,102.98 478.08,104.38 476.78,102.56 475.48,102.79 474.18,104.31 472.88,103.97 471.58,101.67 470.27,103.26 468.97,103.32 467.67,104.13 466.37,106.83 465.07,109.67 463.77,113.06 462.47,116.09 461.16,116.5 459.86,116.62 458.56,117.54 457.26,119.25 455.96,120.97 454.66,121.64 453.36,124.92 452.05,125.73 450.75,126.42 449.45,126.64 448.15,128.13 446.85,126.91 445.55,127.58 444.25,127.47 442.95,127.55 441.64,128.16 440.34,128.49 439.04,127.69 437.74,128.11 436.44,129 435.14,127.88 433.84,129.03 432.53,127.89 431.23,128.59 429.93,129.27 428.63,128.03 427.33,127.78 426.03,127.19 424.73,128.36 423.42,128.62 422.12,128.35 420.82,129.49 419.52,129.34 418.22,130.44 416.92,131.48 415.62,130.74 414.32,133.6 413.01,133.83 411.71,134.87 410.41,136.36 409.11,136.01 407.81,134.81 406.51,132.28 405.21,130.24 403.9,130.91 402.6,129.88 401.3,129.01 400,128.96 398.7,128.74 397.4,128.37 396.1,129.22 394.79,130.4 393.49,129.17 392.19,131.02 390.89,130.23 389.59,131.6 388.29,129.91 386.99,132.36 385.68,132.31 384.38,130.69 383.08,129.34 381.78,129.56 380.48,129.08 379.18,127.65 377.88,124.29 376.58,125.42 375.27,123.24 373.97,123.1 372.67,123.97 371.37,124.94 370.07,123.18 368.77,126.63 367.47,126.02 366.16,124.72 364.86,126.25 363.56,126.56 362.26,129.02 360.96,127.38 359.66,129.88 358.36,129.62 357.05,129.28 355.75,126.9 354.45,127.08 353.15,127.26 351.85,125.83 350.55,126.74 349.25,126.74 347.95,128.42 346.64,128.4 345.34,129.69 344.04,131.62 342.74,131.66 341.44,132.71 340.14,132.9 338.84,133.93 337.53,132.55 336.23,133.01 334.93,133.48 333.63,130.23 332.33,131.12 331.03,130.51 329.73,131.73 328.42,131.24 327.12,133.38 325.82,135.63 324.52,137.77 323.22,141.15 321.92,140.24 320.62,142.23 319.32,139.05 318.01,139.72 316.71,140.71 315.41,141.26 314.11,141.67 312.81,140.43 311.51,140.54 310.21,138.67 308.9,137.61 307.6,135.02 306.3,133.97 305,135.17" fill="#cfcfcf" />
<polyline points="305,128.6 306,133.61 307,132.84 308,132.61 309,131.78 310,128.7 311,129.49 312,127.35 313,130.11 314,132.06 315,135.44 316,135.67 317,135.97 318,136.65 319,135 320,131.9 321,128.8 322,125.09 323,126.59 324,127.19 325,130.89 326,129.98 327,129.46 328,127.36 329,124.06 330,122.03 331,121.36 332,121.73 333,123.35 334,124.28 335,127.68 336,127.79 337,131.36 338,132.04 339,128.77 340,127.59 341,123.45 342,122.32 343,120.15 344,119.77 345,122.99 346,124.64 347,123.63 348,123.13 349,122.82 350,121.04 351,120.78 352,118.71 353,117.42 354,118.62 355,119.68 356,122.51 357,124.6 358,122.83 359,118.98 360,115.99 361,114.99 362,115.26 363,117.95 364,120.8 365,123.08 366,122.7 367,121.71 368,120.44 369,118.49 370,116.9 371,114.54 372,115.31 373,115.02 374,117.34 375,119.86 376,120.37 377,119.35 378,119.64 379,116.95 380,113.36 381,112.9 382,112.7 383,117.51 384,120.13 385,126.35 386,128.94 387,128.27 388,124.32 389,121.58 390,118.57 391,117.87 392,119.64 393,122.19 394,125.08 395,124.65 396,122.73 397,117.85 398,116.67 399,116.12 400,120.36 401,120.85 402,123.88 403,125.42 404,125.53 405,125.92 406,124.27 407,124.58 408,125.72 409,127.36 410,129.96 411,131.52 412,131.96 413,132.59 414,130.5 415,127.83 416,125.31 417,121.62 418,120.04 419,121.55 420,124 421,126.85 422,127.14 423,127.16 424,125.58 425,123.73 426,122.73 427,120.23 428,120.17 429,120.34 430,122.42 431,124.03 432,124.71 433,124.33 434,122.26 435,122.3 436,119 437,117.45 438,116.85 439,116.77 440,117.95 441,122.9 442,125.27 443,126.67 444,124.49 445,123.46 446,117.73 447,114.92 448,115.37 449,118.66 450,122.18 451,122.78 452,122.17 453,118.79 454,115.83 455,110.45 456,107.91 457,105.41 458,105.43 459,107.75 460,112.92 461,113.52 462,114.85 463,114.4 464,109.51 465,101.86 466,98.57 467,96.59 468,95.44 469,96.87 470,99.95 471,100.18 472,100.79 473,101.98 474,99.45 475,96.71 476,95.48 477,97.66 478,98.5 479,100.3 480,100.1 481,102.19 482,102.17 483,102.22 484,99.17 485,96.72 486,97.36 487,98.35 488,96.02 489,95.37 490,95.02 491,95.38 492,94.94 493,93.57 494,90.34 495,89.76 496,88.48 497,88.71 498,88.65 499,91.71 500,92.15 501,93.14 502,91.87 503,89.37 504,88.19 505,87.73 506,87.74 507,86.93 508,89.22 509,91.15 510,91.42 511,89.4 512,91.34 513,89.8 514,90.73 515,88.84 516,87.96 517,88.53 518,89.13 519,89.39 520,87.43 521,86.34 522,85.03 523,85.29 524,84.61 525,83.19 526,84.15 527,84.78 528,85.76 529,86.59 530,86.46 531,85.66 532,84.01 533,82.77 534,82.51 535,80.62 536,81.81 537,83.74 538,84.88 539,84.85 540,85.62 541,82.96 542,82.38 543,83.55 544,82.28 545,81.99 546,82.35 547,83.74 548,84.82 549,85.35 550,84.79 551,84.03 552,82.06 553,79.84 554,81.91 555,81.5 556,83.19 557,82.83 558,82.57 559,81.3 560,81.68 561,81.14 562,81.37 563,81.4 564,83.38 565,83.15 566,83.14 567,81.75 568,83.41 569,82.54 570,81.43 571,81.91 572,81.16 573,82.9 574,82.62 575,82.22 576,81.68 577,82.58 578,82.35 579,82.2 580,83.05 581,82.95 582,82.53 583,82.36 584,82.65 585,82.32 586,82.24 587,82.51 588,82.76 589,82.71 590,81.03" fill="none" stroke="#8a8a8a" stroke-width="4.2" stroke-linejoin="round" stroke-linecap="round" />
<polyline points="304.9,116 304.9,128" fill="none" stroke="#959595" stroke-width="2.2" stroke-linejoin="round" stroke-linecap="round" />
<polyline points="318.4,135 318.4,165.6" fill="none" stroke="#959595" stroke-width="2.2" stroke-linejoin="round" stroke-linecap="round" />
<polyline points="366.7,125 366.7,148.4" fill="none" stroke="#959595" stroke-width="2.2" stroke-linejoin="round" stroke-linecap="round" />
<polyline points="394.6,125 394.6,157.5" fill="none" stroke="#959595" stroke-width="2.2" stroke-linejoin="round" stroke-linecap="round" />
<polyline points="411.6,130 411.6,156" fill="none" stroke="#959595" stroke-width="2.2" stroke-linejoin="round" stroke-linecap="round" />
<polyline points="420,106.5 420,120" fill="none" stroke="#959595" stroke-width="2.2" stroke-linejoin="round" stroke-linecap="round" />
<polyline points="426.5,125 426.5,140.9" fill="none" stroke="#959595" stroke-width="2.2" stroke-linejoin="round" stroke-linecap="round" />
<polyline points="437,125 437,137.7" fill="none" stroke="#959595" stroke-width="2.2" stroke-linejoin="round" stroke-linecap="round" />
<polyline points="442.2,103.3 442.2,118" fill="none" stroke="#959595" stroke-width="2.2" stroke-linejoin="round" stroke-linecap="round" />
<polyline points="448.3,105.4 448.3,118" fill="none" stroke="#959595" stroke-width="2.2" stroke-linejoin="round" stroke-linecap="round" />
<polyline points="455,120 455,133.4" fill="none" stroke="#959595" stroke-width="2.2" stroke-linejoin="round" stroke-linecap="round" />
<polyline points="458.5,103.3 458.5,112" fill="none" stroke="#959595" stroke-width="2.2" stroke-linejoin="round" stroke-linecap="round" />
<polyline points="588,82.57 590.06,82.96 592.12,83.25 594.18,83.68 596.24,83.62 598.3,84.09 600.36,83.06 602.42,83.89 604.48,84.78 606.54,84.59 608.6,85.16 610.66,84.16 612.72,84.76 614.78,84.55 616.84,85.06 618.91,85.2 620.97,84.52 623.03,84.9 625.09,85.09 627.15,86.08 629.21,85.97 631.27,85.22 633.33,86.22 635.39,85.39 637.46,86.16 639.52,85.58 641.58,85.5" fill="none" stroke="#a6a6a6" stroke-width="3.8" stroke-linejoin="round" stroke-linecap="round" />
<polyline points="641.58,85.5 643.64,86.82 645.7,85.99 647.76,86.16 649.82,87.39 651.88,87.39 653.94,86.73 656.01,87.82 658.07,87.39 660.13,87.74 662.19,87.23 664.25,88.42 666.31,88.22 668.37,88.76 670.43,88.82 672.49,88.14 674.56,88.38 676.62,88.27 678.68,88.39 680.74,88.44 682.8,88.92 684.95,89.47 687.1,88.75 689.25,89.82 691.4,89.47 693.55,89.56 695.7,90.4 697.85,90.05 700,89.94 702.06,90.23 704.11,90.6 706.17,89.75 708.22,91.09 710.28,89.81 712.33,90.88 714.39,91.07 716.44,89.97 718.5,91.1 720.56,90.57 722.61,90.92 724.67,90.18 726.72,90.29 728.78,90.53 730.83,91.67 732.89,90.66 734.94,91.5 737,91.8 739.11,91.93 741.23,91.2 743.34,91.32 745.45,91.66 747.57,92.12 749.68,91.29 751.79,92.29 753.91,92.47 756.02,92.66 758.13,91.62 760.25,93 762.36,91.91 764.47,92.36 766.59,92.85 768.7,93.39 770.83,92.41 772.96,93.05 775.09,92.35 777.22,91.86 779.35,91.69 781.48,91.33 783.61,91.02 785.74,90.95 787.87,91.53 790,91.8 792.14,90.95 794.28,91.11 796.42,92.74 798.56,92.43 800.7,92.57 802.84,92.65 804.98,93.47 807.12,94.12 809.26,93.92 811.4,94.19 813.47,93.52 815.53,94.57 817.6,93.18 819.67,93.67 821.73,94 823.8,92.85 825.87,93.54 827.93,93.69 830,93.08 832.07,93.15 834.13,92.04 836.2,92.34 838.27,91.79 840.33,92.6 842.4,91.68 844.47,91.75 846.53,92.35 848.6,91.99 850.69,92.21 852.79,91.53 854.88,91.62 856.97,92.01 859.07,91.7 861.16,91.49 863.25,91.69 865.35,91.38 867.44,91.75 869.53,92.65 871.63,92.66 873.72,92.24 875.81,92.11 877.91,91.93 880,91.62 882.17,91.93 884.33,92.69 886.5,92.86 888.67,92.21 890.83,92.85 893,92.88 893.26,90.47 893.52,88.13 893.78,85.96 894.04,83.11 894.3,81.29 896.58,80.49 898.86,80.58 901.14,80.78 903.42,80.47 905.7,79.71 907.84,80.52 909.98,79.99 912.12,79.79 914.27,78.88 916.41,79.52 918.55,79 920.69,79.48 922.83,79.08 924.98,79.47 927.12,79.12 929.26,79.23 931.4,78.49 933.54,78.59 935.68,78.4 937.83,78.21 939.97,77.22 942.11,77.6 944.25,77.32 946.39,76.75 948.53,76.83 950.67,76.49 952.82,75.56 954.96,75.26 957.1,74.43 959.08,75.07 961.07,74.91 963.05,73.97 965.04,73.97 967.02,73.71 969.01,73.42 970.99,72.34 972.98,72.89 974.96,72.31 976.95,72.13 978.93,71.49 980.92,71.47 982.9,71.38 985.04,70.87 987.18,70.66 989.33,69.36 991.47,69.22 993.61,69.29 995.75,69.26 997.89,68.33 1000.03,68.66 1002.17,68.26 1004.32,67.11 1006.46,67.39 1008.6,66.72 1010.73,65.84 1012.87,65.32 1015,64.94 1016.67,66.23 1018.35,67.72 1020.03,68.97" fill="none" stroke="#939393" stroke-width="3.4" stroke-linejoin="round" stroke-linecap="round" />
<polyline points="1020.03,68.97 1021.7,71.05 1023.09,72.56 1024.47,74.51 1025.86,76.1 1027.25,77.23 1028.64,79.79 1030.03,80.15 1031.41,82.34 1032.8,83.79 1034.2,82.1 1035.6,79.81 1037,78.94 1038.4,76.42 1040.26,75.16 1042.11,75.19 1043.97,73.68 1045.83,73.52 1047.69,72.45 1049.54,72 1051.4,71.74 1053.57,70.93 1055.73,69.75 1057.9,69.69 1060.07,68.83 1062.23,67.83 1064.4,66.9 1065.14,69.57 1065.88,71.57 1066.62,74.16 1067.36,76.22 1068.1,77.75 1070.19,77.74 1072.27,78.85 1074.36,77.95 1076.45,78.45 1078.54,79.44 1080.62,79.86 1082.71,79.55 1084.8,80.58 1086.83,80.36 1088.85,79.04 1090.88,78.53 1092.91,77.65 1094.94,77.15 1096.96,77.52 1098.99,76.1 1101.02,76.32 1103.05,75.66 1105.07,74.63 1107.1,73.56 1108.96,73.45 1110.82,71.65 1112.68,70.42 1114.54,69.17 1116.4,68.98 1118.26,67.17 1120.12,65.76 1121.98,64.91 1123.84,63.29 1125.7,62.87 1127.77,61.9 1129.83,60.97 1131.9,60.93 1133.97,60.27 1136.03,58.41 1138.1,58.41 1140.17,57.33 1142.23,57.53 1144.3,56.59 1146.34,55.28 1148.38,54.75 1150.42,54.04 1152.46,54.64 1154.5,53.11 1156.54,52.99 1158.58,52.24 1160.62,51.92 1162.66,51.31 1164.7,50.6" fill="none" stroke="#ababab" stroke-width="4.2" stroke-linejoin="round" stroke-linecap="round" />
<polyline points="310,438.47 311.43,435.51 312.86,434.79 314.29,437.57 315.71,434.62 317.14,434.07 318.57,435.43 320,434.11 321.43,435.4 322.86,432.86 324.29,434.74 325.71,432.25 327.14,432.71 328.57,433.33 330,432.09 331.43,432.65 332.87,431.74 334.3,429.42 335.73,431.88 337.17,430.73 338.6,429.63 340.03,429.03 341.47,430.93 342.9,429.87 344.33,430.96 345.75,430.4 347.18,430.96 348.61,429.66 350.03,430.04 351.46,429.73 352.89,428.56 354.32,430.75 355.74,428.65 357.17,430.11 358.6,430.63 360.02,429.62 361.45,427.96 362.88,430.1 364.3,429.56 365.73,427.98 367.16,427.5 368.58,429.01 370.01,427.37 371.44,430.19 372.87,428.81 374.29,428.81 375.72,428.43 377.15,429.19 378.57,429.97 380,427.98 381.43,428.16 382.85,428.8 384.28,427.85 385.71,428.77 387.13,428.56 388.56,428.18 389.99,428.91 391.42,428.41 392.84,426.97 394.27,429.84 395.7,427.76 397.12,427.97 398.55,427.84 399.98,429.49 401.4,429.53 402.83,428.08 404.26,427.69 405.68,426.69 407.11,429.21 408.54,426.86 409.97,428.02 411.39,427.36 412.82,427.25 414.25,427.31 415.67,426.75 417.1,426.22 418.53,428.1 419.96,429.22 421.39,429.02 422.82,427.88 424.25,429.74 425.68,427.97 427.12,429.41 428.55,431.03 429.98,431.61 431.41,430.42 432.84,431.94 434.27,431.11 435.7,431.48 437.12,431.88 438.55,433.39 439.97,432.81 441.39,432.15 442.81,433.17 444.24,433.11 445.66,432.4 447.08,433.98 448.5,434.31 449.93,433.84 451.35,435.12 452.77,432.37 454.2,434.12 455.62,434.76 457.04,434.03 458.46,433.69 459.89,435.57 461.31,434.95 462.73,434.63 464.15,434.12 465.58,437.29 467,435.53 468.44,435.06 469.88,435.66 471.32,436.07 472.75,438.31 474.19,436.4 475.63,436.99 477.07,436.7 478.51,438.18 479.95,437.63 481.38,438.35 482.82,439.88 484.26,440.78 485.7,440.77 487.13,438.48 488.56,439.82 489.99,441.58 491.42,439.22 492.85,440.02 494.28,441.19 495.72,441.1 497.15,442.53 498.58,442.68 500.01,442.12 501.44,441.69 502.87,441.88 504.3,442.25 505.73,441.84 507.16,443.99 508.59,442.6 510.02,445.17 511.45,444.62 512.88,442.97 514.32,444.61 515.75,445.18 517.18,443.61 518.61,445.27 520.04,444.03 521.47,446.62 522.9,444.41 524.33,446.56 525.75,447.82 527.18,447.51 528.61,445.69 530.03,446.78 531.46,445.66 532.89,446.44 534.32,448.24 535.74,448.23 537.17,445.78 538.6,447.1 540.02,448.06 541.45,446.71 542.88,448.85 544.3,449.28 545.73,448.32 547.16,447.85 548.58,449.54 550.01,448.6 551.44,447.7 552.87,448.12 554.29,447.87 555.72,450.18 557.15,449.26 558.57,449.99 560,450.52 561.44,451.27 562.88,449.01 564.33,449.95 565.77,451.7 567.21,451.59 568.65,450.64 570.09,451.75 571.53,450.52 572.97,450.67 574.42,450.56 575.86,451.87 577.3,451.66 578.73,452.74 580.17,454.37 581.6,451.94 583.03,453.43 584.47,454.59 585.9,453.93 587.33,453.88 588.77,454.84 590.2,452.64 591.63,455.79 593.07,455.13 594.5,455.7 595.93,455.95 597.37,453.81 598.8,453.89 600.23,454.43 601.67,455.66 603.1,457.24 604.53,457.33 605.97,455.92 607.4,456.78 608.83,457.34 610.27,456.22 611.7,458.45 613.13,458.54 614.57,458.04 616,458.78 617.43,458.7 618.86,458.47 620.29,457.65 621.72,457.76 623.15,457.87 624.58,457.53 626.01,460.55 627.44,458.78 628.87,458.14 630.3,459.32 631.73,458.88 633.16,460.21 634.59,460.09 636.01,459.83 637.44,461.04 638.87,461.08 640.3,461.13 641.73,462.84 643.16,461.46 644.59,462.45 646.02,463.76 647.45,464.27 648.88,462.64 650.31,461.81 651.74,464.96 653.17,463.8 654.6,463.1 656.03,462.99 657.47,463.53 658.9,463.94 660.33,463.57 661.77,463.46 663.2,466.67 664.63,466.3 666.07,464.21 667.5,465.57 668.93,466.78 670.37,466.01 671.8,464.8 673.23,465.85 674.67,466.16 676.1,468.05 677.53,467.17 678.97,466.95 680.4,467.68 681.83,466 683.27,468.23 684.7,468.8 686.13,468.54 687.57,467.73 689,467.67 690.43,466.97 691.87,467.38 693.3,467.79 694.73,468.93 696.17,470.15 697.6,468.53 699.03,469.52 700.47,470.22 701.9,470.38 703.33,468.61 704.77,471.67 706.2,470.77 707.63,470.05 709.07,470.02 710.5,471.64 711.93,472.6 713.37,470.87 714.8,471.24 716.23,471.93 717.67,470.88 719.1,471.8 720.53,473.61 721.97,472.64 723.4,473.67 724.83,472.05 726.27,474.17 727.7,474.07 729.13,472.47 730.57,473.62 732,474.28 733.38,474.19 734.77,474.55 736.15,473.65 737.54,474.92 738.92,474.54 740.31,476.22 741.69,475.12 743.08,477.33 744.46,476.31 745.85,475.44 747.23,476.31 748.62,475.65 750,477.86 751.41,475.71 752.81,477.55 754.22,476.66 755.63,478.22 757.03,476.2 758.44,478.03 759.85,478.2 761.26,476.71 762.66,476.44 764.07,477.28 765.48,478.22 766.88,477.04 768.29,476.29 769.7,477.73 771.1,478.97 772.51,476.94 773.92,479.51 775.32,478.18 776.73,477.13 778.14,476.99 779.54,477.92 780.95,478.31 782.36,477.41 783.77,477.18 785.17,478.57 786.58,477.84 787.99,478.5 789.39,478.58 790.8,479.43 792.21,479.24 793.61,478.32 795.02,478.36 796.43,480.73 797.83,478.34 799.24,478.77 800.65,478.8 802.06,481.42 803.46,480.7 804.87,482.12 806.28,481.37 807.68,480.63 809.09,481.13 810.5,482.3 811.9,480.89 813.31,482.91 814.72,481.85 816.12,480.87 817.53,482.03 818.94,482.92 820.34,481.8 821.75,484.42 823.16,484.68 824.57,483.55 825.97,485.01 827.38,484.52 828.79,484.23 830.19,483.21 831.6,485.95 833.01,486.01 834.41,484.68 835.82,484.64 837.23,483.81 838.63,485.73 840.04,486.65 841.45,485.33 842.86,485.18 844.26,486.38 845.67,487.13 847.08,485.3 848.48,485.83 849.89,487.15 851.3,485.4 852.7,488.05 854.11,486.61 855.52,488.44 856.92,487.4 858.33,486.64 859.74,486.34 861.14,486.81 862.55,487.45 863.96,489.21 865.37,489.5 866.77,489.14 868.18,488.28 869.59,489.59 870.99,489.98 872.4,488.98 873.86,488.35 875.33,489.89 876.79,489.39 878.26,489.58 879.72,490.51 881.19,489.8 882.65,492.72 884.11,491.04 885.58,493.31 887.04,493.09 888.51,491.06 889.97,494.19 891.44,494.2 892.9,493.58 894.32,494.81 895.75,493.6 897.17,492.23 898.6,492.71 900.02,493.31 901.45,495.15 902.88,495.14 904.3,492.94 905.73,493.77 907.15,493.09 908.58,493.55 910,494.03 911.6,494.47 913.2,493.86 914.8,495.72 916.4,494.63 918,496.95 919.2,494.7 920.4,493.59 921.6,493.73 922.8,491.44 924,490.22 924.86,491.14 925.71,493.03 926.57,494.18 927.43,497.12 928.29,497.25 929.14,499.72 930,499.68 931,498.01 932,497.75 933,497.01 934,497.66 935,494.37 936,493.39 937,492.2 938.44,492.38 939.89,494.51 941.33,494.28 942.78,491.89 944.22,491.19 945.67,492.46 947.11,492.64 948.56,490.99 950,491.84 951.43,492.7 952.86,489.99 954.29,492.03 955.71,491.66 957.14,491.73 958.57,490.52 960,490.18 961.43,489.77 962.86,487.96 964.29,488.59 965.71,487.12 967.14,486.8 968.57,485.33 970,485.11 971.14,483.93 972.29,484.65 973.43,482.83 974.57,483.01 975.71,482" fill="none" stroke="#262626" stroke-width="10.6" stroke-linejoin="round" stroke-linecap="round" />
<polyline points="974.57,483.01 975.71,482 976.86,480.29 978,479.11 978.88,479.43 979.75,478.52 980.62,477.38 981.5,475.62 982.38,474.68 983.25,471.73 984.12,471.46 985,471.86 985.78,469.18 986.56,466.99 987.33,466.68 988.11,466.68 988.89,463 989.67,461.72 990.44,461.64 991.22,461.51 992,458.65 992.86,456.85 993.71,457.17 994.57,453.67 995.43,452.97 996.29,452.6 997.14,452.06 998,450.76 998.88,447.87 999.75,446.5 1000.62,445.64 1001.5,443.69 1002.38,443 1003.25,443.4 1004.12,442.91 1005,439.46 1005.89,437.64 1006.78,438.59 1007.67,438.13 1008.56,436.39 1009.44,433.98 1010.33,433.85 1011.22,432.71 1012.11,431.47 1013,429.48 1013.78,429.83 1014.56,427.87 1015.35,424.86 1016.13,424.22 1016.91,421.87 1017.69,421.52 1018.47,421.67 1019.25,419.35 1020.04,418.2 1020.82,417.76 1021.6,414.28 1022.21,413.79 1022.82,412.86 1023.43,411.55 1024.04,410.81 1024.66,410.28 1025.27,408.5 1025.88,406.33 1026.49,405.43 1027.1,403.62 1027.71,403.71 1028.32,401.12 1028.93,399.77 1029.54,397.79 1030.16,396.52 1030.77,396.28 1031.38,393.68 1031.99,394.04 1032.6,392.13 1033.25,391.56 1033.89,389.47 1034.54,387.74 1035.19,385.8 1035.84,383.39 1036.48,384.15 1037.13,383.15 1037.78,381.76 1038.42,380.58 1039.07,376.97 1039.72,377.75 1040.36,375.17 1041.01,374.22 1041.66,374.46 1042.31,371.68 1042.95,370.59 1043.6,367.96 1044.45,367.2 1045.29,366.1 1046.14,364.93 1046.98,364.73 1047.83,362.03 1048.68,360.98 1049.52,359.78 1050.37,360.67 1051.22,360.24 1052.06,358.35 1052.91,356.42 1053.75,354 1054.6,354.91 1055.26,351.55 1055.92,350.12 1056.58,350.24 1057.24,350.1 1057.9,347.07 1058.56,347.57 1059.22,344.61 1059.88,345.37 1060.54,343.38 1061.2,342.52 1061.86,341.64 1062.52,339.83 1063.18,336.58 1063.84,336.34 1064.5,335.17 1065.16,334.47 1065.82,331.63 1066.48,331.48 1067.14,329.27 1067.8,328.7" fill="none" stroke="#262626" stroke-width="6.6" stroke-linejoin="round" stroke-linecap="round" />
<polyline points="580.82,448.95 580.82,446.92" fill="none" stroke="#262626" stroke-width="1.6" stroke-linejoin="round" stroke-linecap="butt" />
<polyline points="460.15,430.99 460.15,428.82" fill="none" stroke="#262626" stroke-width="1.6" stroke-linejoin="round" stroke-linecap="butt" />
<polyline points="686.2,464 686.2,462.03" fill="none" stroke="#262626" stroke-width="1.6" stroke-linejoin="round" stroke-linecap="butt" />
<polyline points="650.02,467.23 650.02,470.81" fill="none" stroke="#262626" stroke-width="1.6" stroke-linejoin="round" stroke-linecap="butt" />
<polyline points="561,453.67 561,457.47" fill="none" stroke="#262626" stroke-width="1.6" stroke-linejoin="round" stroke-linecap="butt" />
<polyline points="752.88,481.22 752.88,482.94" fill="none" stroke="#262626" stroke-width="1.6" stroke-linejoin="round" stroke-linecap="butt" />
<polyline points="865.72,484.6 865.72,482.76" fill="none" stroke="#262626" stroke-width="1.6" stroke-linejoin="round" stroke-linecap="butt" />
<polyline points="358.1,425.19 358.1,422.88" fill="none" stroke="#262626" stroke-width="1.6" stroke-linejoin="round" stroke-linecap="butt" />
<polyline points="519.55,449.46 519.55,451.06" fill="none" stroke="#262626" stroke-width="1.6" stroke-linejoin="round" stroke-linecap="butt" />
<polyline points="565.91,454.52 565.91,457.45" fill="none" stroke="#262626" stroke-width="1.6" stroke-linejoin="round" stroke-linecap="butt" />
<polyline points="437.4,427.65 437.4,425.38" fill="none" stroke="#262626" stroke-width="1.6" stroke-linejoin="round" stroke-linecap="butt" />
<polyline points="475.16,433.61 475.16,431.98" fill="none" stroke="#262626" stroke-width="1.6" stroke-linejoin="round" stroke-linecap="butt" />
<polyline points="944.06,496.65 944.06,500.28" fill="none" stroke="#262626" stroke-width="1.6" stroke-linejoin="round" stroke-linecap="butt" />
<polyline points="798,483.81 798,486.41" fill="none" stroke="#262626" stroke-width="1.6" stroke-linejoin="round" stroke-linecap="butt" />
<polyline points="621.84,462.48 621.84,465.75" fill="none" stroke="#262626" stroke-width="1.6" stroke-linejoin="round" stroke-linecap="butt" />
<polyline points="667.67,461.65 667.67,458.7" fill="none" stroke="#262626" stroke-width="1.6" stroke-linejoin="round" stroke-linecap="butt" />
<polyline points="965.73,491.95 965.73,495.3" fill="none" stroke="#262626" stroke-width="1.6" stroke-linejoin="round" stroke-linecap="butt" />
<polyline points="952.46,487.66 952.46,485.32" fill="none" stroke="#262626" stroke-width="1.6" stroke-linejoin="round" stroke-linecap="butt" />
<polyline points="318.11,431.05 318.11,427.81" fill="none" stroke="#262626" stroke-width="1.6" stroke-linejoin="round" stroke-linecap="butt" />
<polyline points="709.32,474.89 709.32,479.37" fill="none" stroke="#262626" stroke-width="1.6" stroke-linejoin="round" stroke-linecap="butt" />
<polyline points="546.69,444.24 546.69,441.53" fill="none" stroke="#262626" stroke-width="1.6" stroke-linejoin="round" stroke-linecap="butt" />
<polyline points="549.5,444.51 549.5,440.5" fill="none" stroke="#262626" stroke-width="1.6" stroke-linejoin="round" stroke-linecap="butt" />
<polyline points="711.23,467.12 711.23,462.63" fill="none" stroke="#262626" stroke-width="1.6" stroke-linejoin="round" stroke-linecap="butt" />
<polyline points="812.55,485.84 812.55,487.71" fill="none" stroke="#262626" stroke-width="1.6" stroke-linejoin="round" stroke-linecap="butt" />
<polyline points="430.07,426.28 430.07,422.92" fill="none" stroke="#262626" stroke-width="1.6" stroke-linejoin="round" stroke-linecap="butt" />
<polyline points="505.25,439.15 505.25,436.84" fill="none" stroke="#262626" stroke-width="1.6" stroke-linejoin="round" stroke-linecap="butt" />
<polyline points="316.43,439.46 316.43,441.49" fill="none" stroke="#262626" stroke-width="1.6" stroke-linejoin="round" stroke-linecap="butt" />
<polyline points="656.59,460.25 656.59,456.18" fill="none" stroke="#262626" stroke-width="1.6" stroke-linejoin="round" stroke-linecap="butt" />
<polyline points="956.21,486.98 956.21,484.64" fill="none" stroke="#262626" stroke-width="1.6" stroke-linejoin="round" stroke-linecap="butt" />
<polyline points="944.29,496.63 944.29,501.05" fill="none" stroke="#262626" stroke-width="1.6" stroke-linejoin="round" stroke-linecap="butt" />
<polyline points="967.75,491.12 967.75,494.26" fill="none" stroke="#262626" stroke-width="1.6" stroke-linejoin="round" stroke-linecap="butt" />
<polyline points="632.87,464.34 632.87,467.31" fill="none" stroke="#262626" stroke-width="1.6" stroke-linejoin="round" stroke-linecap="butt" />
<polyline points="575.96,456.27 575.96,459.41" fill="none" stroke="#262626" stroke-width="1.6" stroke-linejoin="round" stroke-linecap="butt" />
<polyline points="932.4,493.97 932.4,491.51" fill="none" stroke="#262626" stroke-width="1.6" stroke-linejoin="round" stroke-linecap="butt" />
<polyline points="398.67,424.15 398.67,420.68" fill="none" stroke="#262626" stroke-width="1.6" stroke-linejoin="round" stroke-linecap="butt" />
<polyline points="360.93,433.11 360.93,435.8" fill="none" stroke="#262626" stroke-width="1.6" stroke-linejoin="round" stroke-linecap="butt" />
<polyline points="539.14,451.53 539.14,453.28" fill="none" stroke="#262626" stroke-width="1.6" stroke-linejoin="round" stroke-linecap="butt" />
<polyline points="905.71,490.25 905.71,487.91" fill="none" stroke="#262626" stroke-width="1.6" stroke-linejoin="round" stroke-linecap="butt" />
<polyline points="662.99,469.06 662.99,471.29" fill="none" stroke="#262626" stroke-width="1.6" stroke-linejoin="round" stroke-linecap="butt" />
<polyline points="773.48,482.08 773.48,483.8" fill="none" stroke="#262626" stroke-width="1.6" stroke-linejoin="round" stroke-linecap="butt" />
<polyline points="490.79,444.6 490.79,448.18" fill="none" stroke="#262626" stroke-width="1.6" stroke-linejoin="round" stroke-linecap="butt" />
<polyline points="962.88,493.12 962.88,495.37" fill="none" stroke="#262626" stroke-width="1.6" stroke-linejoin="round" stroke-linecap="butt" />
<polyline points="464.49,439.63 464.49,442.71" fill="none" stroke="#262626" stroke-width="1.6" stroke-linejoin="round" stroke-linecap="butt" />
<polyline points="521.97,449.85 521.97,454.09" fill="none" stroke="#262626" stroke-width="1.6" stroke-linejoin="round" stroke-linecap="butt" />
<polyline points="407.72,423.93 407.72,422.19" fill="none" stroke="#262626" stroke-width="1.6" stroke-linejoin="round" stroke-linecap="butt" />
<polyline points="912.13,498.82 912.13,501.47" fill="none" stroke="#262626" stroke-width="1.6" stroke-linejoin="round" stroke-linecap="butt" />
<polyline points="945.41,496.52 945.41,498.68" fill="none" stroke="#262626" stroke-width="1.6" stroke-linejoin="round" stroke-linecap="butt" />
<polyline points="414.89,423.75 414.89,420.05" fill="none" stroke="#262626" stroke-width="1.6" stroke-linejoin="round" stroke-linecap="butt" />
<polyline points="315.36,439.71 315.36,441.26" fill="none" stroke="#262626" stroke-width="1.6" stroke-linejoin="round" stroke-linecap="butt" />
<polyline points="770.76,473.96 770.76,471.97" fill="none" stroke="#262626" stroke-width="1.6" stroke-linejoin="round" stroke-linecap="butt" />
<polyline points="669.71,461.91 669.71,460.05" fill="none" stroke="#262626" stroke-width="1.6" stroke-linejoin="round" stroke-linecap="butt" />
<polyline points="569.53,447.15 569.53,443.74" fill="none" stroke="#262626" stroke-width="1.6" stroke-linejoin="round" stroke-linecap="butt" />
<polyline points="514.75,440.69 514.75,438.34" fill="none" stroke="#262626" stroke-width="1.6" stroke-linejoin="round" stroke-linecap="butt" />
<polyline points="846.71,482.31 846.71,478.78" fill="none" stroke="#262626" stroke-width="1.6" stroke-linejoin="round" stroke-linecap="butt" />
<polyline points="765.4,481.74 765.4,484.87" fill="none" stroke="#262626" stroke-width="1.6" stroke-linejoin="round" stroke-linecap="butt" />
<polyline points="928.6,502.21 928.6,503.76" fill="none" stroke="#262626" stroke-width="1.6" stroke-linejoin="round" stroke-linecap="butt" />
<polyline points="835.56,480.98 835.56,478.89" fill="none" stroke="#262626" stroke-width="1.6" stroke-linejoin="round" stroke-linecap="butt" />
<polyline points="421.11,424.5 421.11,421.31" fill="none" stroke="#262626" stroke-width="1.6" stroke-linejoin="round" stroke-linecap="butt" />
<polyline points="876.4,486.2 876.4,482.01" fill="none" stroke="#262626" stroke-width="1.6" stroke-linejoin="round" stroke-linecap="butt" />
<polyline points="771.28,481.99 771.28,486.15" fill="none" stroke="#262626" stroke-width="1.6" stroke-linejoin="round" stroke-linecap="butt" />
<polyline points="855.69,483.39 855.69,480.14" fill="none" stroke="#262626" stroke-width="1.6" stroke-linejoin="round" stroke-linecap="butt" />
<polyline points="945.65,496.5 945.65,498.79" fill="none" stroke="#262626" stroke-width="1.6" stroke-linejoin="round" stroke-linecap="butt" />
<polyline points="578.22,448.62 578.22,445.14" fill="none" stroke="#262626" stroke-width="1.6" stroke-linejoin="round" stroke-linecap="butt" />
<polyline points="425.17,425.3 425.17,422.95" fill="none" stroke="#262626" stroke-width="1.6" stroke-linejoin="round" stroke-linecap="butt" />
<polyline points="913.18,498.98 913.18,501.89" fill="none" stroke="#262626" stroke-width="1.6" stroke-linejoin="round" stroke-linecap="butt" />
<polyline points="831.16,488.44 831.16,491.43" fill="none" stroke="#262626" stroke-width="1.6" stroke-linejoin="round" stroke-linecap="butt" />
<polyline points="560.67,453.62 560.67,455.45" fill="none" stroke="#262626" stroke-width="1.6" stroke-linejoin="round" stroke-linecap="butt" />
<polyline points="766.17,473.77 766.17,471.52" fill="none" stroke="#262626" stroke-width="1.6" stroke-linejoin="round" stroke-linecap="butt" />
<polyline points="460.06,430.98 460.06,428.45" fill="none" stroke="#262626" stroke-width="1.6" stroke-linejoin="round" stroke-linecap="butt" />
<polyline points="551.29,452.68 551.29,455.47" fill="none" stroke="#262626" stroke-width="1.6" stroke-linejoin="round" stroke-linecap="butt" />
<polyline points="333.72,434.95 333.72,438.07" fill="none" stroke="#262626" stroke-width="1.6" stroke-linejoin="round" stroke-linecap="butt" />
<polyline points="773.86,474.09 773.86,472.58" fill="none" stroke="#262626" stroke-width="1.6" stroke-linejoin="round" stroke-linecap="butt" />
<polyline points="840.05,489.52 840.05,491.07" fill="none" stroke="#262626" stroke-width="1.6" stroke-linejoin="round" stroke-linecap="butt" />
<polyline points="820.93,479.01 820.93,475.52" fill="none" stroke="#262626" stroke-width="1.6" stroke-linejoin="round" stroke-linecap="butt" />
<polyline points="525.35,450.23 525.35,453.06" fill="none" stroke="#262626" stroke-width="1.6" stroke-linejoin="round" stroke-linecap="butt" />
<polyline points="935.29,491.03 935.29,488.66" fill="none" stroke="#262626" stroke-width="1.6" stroke-linejoin="round" stroke-linecap="butt" />
<polyline points="741.28,479.45 741.28,483.45" fill="none" stroke="#262626" stroke-width="1.6" stroke-linejoin="round" stroke-linecap="butt" />
<polyline points="318.16,439.04 318.16,441.05" fill="none" stroke="#262626" stroke-width="1.6" stroke-linejoin="round" stroke-linecap="butt" />
<polyline points="836.79,489.12 836.79,490.77" fill="none" stroke="#262626" stroke-width="1.6" stroke-linejoin="round" stroke-linecap="butt" />
<polyline points="767.74,481.84 767.74,484.49" fill="none" stroke="#262626" stroke-width="1.6" stroke-linejoin="round" stroke-linecap="butt" />
<polyline points="418.67,432.01 418.67,433.7" fill="none" stroke="#262626" stroke-width="1.6" stroke-linejoin="round" stroke-linecap="butt" />
<polyline points="463.89,431.54 463.89,428.97" fill="none" stroke="#262626" stroke-width="1.6" stroke-linejoin="round" stroke-linecap="butt" />
<polyline points="945.52,488.51 945.52,486.85" fill="none" stroke="#262626" stroke-width="1.6" stroke-linejoin="round" stroke-linecap="butt" />
<polyline points="675.18,470.61 675.18,474.6" fill="none" stroke="#262626" stroke-width="1.6" stroke-linejoin="round" stroke-linecap="butt" />
<polyline points="638.53,465.29 638.53,468.14" fill="none" stroke="#262626" stroke-width="1.6" stroke-linejoin="round" stroke-linecap="butt" />
<polyline points="881.46,495.21 881.46,496.8" fill="none" stroke="#262626" stroke-width="1.6" stroke-linejoin="round" stroke-linecap="butt" />
<polyline points="318.74,430.9 318.74,426.92" fill="none" stroke="#262626" stroke-width="1.6" stroke-linejoin="round" stroke-linecap="butt" />
<polyline points="679.2,463.11 679.2,461.28" fill="none" stroke="#262626" stroke-width="1.6" stroke-linejoin="round" stroke-linecap="butt" />
<polyline points="836.13,481.04 836.13,477.65" fill="none" stroke="#262626" stroke-width="1.6" stroke-linejoin="round" stroke-linecap="butt" />
<polyline points="692.29,472.77 692.29,475.95" fill="none" stroke="#262626" stroke-width="1.6" stroke-linejoin="round" stroke-linecap="butt" />
<polyline points="347.31,433.48 347.31,437.76" fill="none" stroke="#262626" stroke-width="1.6" stroke-linejoin="round" stroke-linecap="butt" />
<polyline points="700.73,465.82 700.73,461.37" fill="none" stroke="#262626" stroke-width="1.6" stroke-linejoin="round" stroke-linecap="butt" />
<polyline points="662.65,461.02 662.65,457.58" fill="none" stroke="#262626" stroke-width="1.6" stroke-linejoin="round" stroke-linecap="butt" />
<polyline points="821.04,479.03 821.04,476.9" fill="none" stroke="#262626" stroke-width="1.6" stroke-linejoin="round" stroke-linecap="butt" />
<polyline points="480.06,442.58 480.06,444.92" fill="none" stroke="#262626" stroke-width="1.6" stroke-linejoin="round" stroke-linecap="butt" />
<polyline points="842.92,489.86 842.92,491.62" fill="none" stroke="#262626" stroke-width="1.6" stroke-linejoin="round" stroke-linecap="butt" />
<polyline points="648.4,458.96 648.4,456.46" fill="none" stroke="#262626" stroke-width="1.6" stroke-linejoin="round" stroke-linecap="butt" />
<polyline points="589.41,458.06 589.41,460.76" fill="none" stroke="#262626" stroke-width="1.6" stroke-linejoin="round" stroke-linecap="butt" />
<polyline points="321.04,430.28 321.04,428.19" fill="none" stroke="#262626" stroke-width="1.6" stroke-linejoin="round" stroke-linecap="butt" />
<polyline points="810.79,485.59 810.79,488.37" fill="none" stroke="#262626" stroke-width="1.6" stroke-linejoin="round" stroke-linecap="butt" />
<polyline points="588.95,458.01 588.95,462.14" fill="none" stroke="#262626" stroke-width="1.6" stroke-linejoin="round" stroke-linecap="butt" />
<polyline points="569.06,455.07 569.06,458.47" fill="none" stroke="#262626" stroke-width="1.6" stroke-linejoin="round" stroke-linecap="butt" />
<polyline points="665.7,469.41 665.7,471.38" fill="none" stroke="#262626" stroke-width="1.6" stroke-linejoin="round" stroke-linecap="butt" />
<polyline points="339.66,434.08 339.66,437.72" fill="none" stroke="#262626" stroke-width="1.6" stroke-linejoin="round" stroke-linecap="butt" />
<polyline points="745.09,480.17 745.09,482.59" fill="none" stroke="#262626" stroke-width="1.6" stroke-linejoin="round" stroke-linecap="butt" />
<polyline points="793.55,483.18 793.55,486.39" fill="none" stroke="#262626" stroke-width="1.6" stroke-linejoin="round" stroke-linecap="butt" />
<polyline points="661.56,460.88 661.56,458.01" fill="none" stroke="#262626" stroke-width="1.6" stroke-linejoin="round" stroke-linecap="butt" />
<polyline points="716.59,467.79 716.59,464.82" fill="none" stroke="#262626" stroke-width="1.6" stroke-linejoin="round" stroke-linecap="butt" />
<polyline points="469.32,432.46 469.32,429.98" fill="none" stroke="#262626" stroke-width="1.6" stroke-linejoin="round" stroke-linecap="butt" />
<polyline points="492.84,436.97 492.84,433.86" fill="none" stroke="#262626" stroke-width="1.6" stroke-linejoin="round" stroke-linecap="butt" />
<polyline points="584.5,457.43 584.5,460.61" fill="none" stroke="#262626" stroke-width="1.6" stroke-linejoin="round" stroke-linecap="butt" />
<polyline points="824.14,479.46 824.14,476.14" fill="none" stroke="#262626" stroke-width="1.6" stroke-linejoin="round" stroke-linecap="butt" />
<polyline points="465.53,431.78 465.53,428.83" fill="none" stroke="#262626" stroke-width="1.6" stroke-linejoin="round" stroke-linecap="butt" />
<polyline points="915.92,499.39 915.92,501.32" fill="none" stroke="#262626" stroke-width="1.6" stroke-linejoin="round" stroke-linecap="butt" />
<polyline points="909.94,498.5 909.94,501.9" fill="none" stroke="#262626" stroke-width="1.6" stroke-linejoin="round" stroke-linecap="butt" />
<polyline points="887.56,496.43 887.56,499.04" fill="none" stroke="#262626" stroke-width="1.6" stroke-linejoin="round" stroke-linecap="butt" />
<polyline points="339.13,434.16 339.13,435.89" fill="none" stroke="#262626" stroke-width="1.6" stroke-linejoin="round" stroke-linecap="butt" />
<polyline points="342.13,425.71 342.13,421.25" fill="none" stroke="#262626" stroke-width="1.6" stroke-linejoin="round" stroke-linecap="butt" />
<polyline points="673.21,462.36 673.21,458.6" fill="none" stroke="#262626" stroke-width="1.6" stroke-linejoin="round" stroke-linecap="butt" />
<polyline points="674.23,470.49 674.23,473.04" fill="none" stroke="#262626" stroke-width="1.6" stroke-linejoin="round" stroke-linecap="butt" />
<polyline points="939.72,489.05 939.72,484.86" fill="none" stroke="#262626" stroke-width="1.6" stroke-linejoin="round" stroke-linecap="butt" />
<polyline points="482.36,443.04 482.36,444.64" fill="none" stroke="#262626" stroke-width="1.6" stroke-linejoin="round" stroke-linecap="butt" />
<polyline points="485.87,435.73 485.87,434.23" fill="none" stroke="#262626" stroke-width="1.6" stroke-linejoin="round" stroke-linecap="butt" />
<polyline points="568.75,455.02 568.75,456.55" fill="none" stroke="#262626" stroke-width="1.6" stroke-linejoin="round" stroke-linecap="butt" />
<polyline points="379.41,432.62 379.41,436" fill="none" stroke="#262626" stroke-width="1.6" stroke-linejoin="round" stroke-linecap="butt" />
<polyline points="480.55,434.68 480.55,432.26" fill="none" stroke="#262626" stroke-width="1.6" stroke-linejoin="round" stroke-linecap="butt" />
<polyline points="333.46,426.99 333.46,424.44" fill="none" stroke="#262626" stroke-width="1.6" stroke-linejoin="round" stroke-linecap="butt" />
<polyline points="876.74,494.27 876.74,497.06" fill="none" stroke="#262626" stroke-width="1.6" stroke-linejoin="round" stroke-linecap="butt" />
<polyline points="368.53,432.91 368.53,434.46" fill="none" stroke="#262626" stroke-width="1.6" stroke-linejoin="round" stroke-linecap="butt" />
<polyline points="924.54,487.84 924.54,485.99" fill="none" stroke="#262626" stroke-width="1.6" stroke-linejoin="round" stroke-linecap="butt" />
<polyline points="729.07,477.34 729.07,480.18" fill="none" stroke="#262626" stroke-width="1.6" stroke-linejoin="round" stroke-linecap="butt" />
<polyline points="647.23,458.76 647.23,456.68" fill="none" stroke="#262626" stroke-width="1.6" stroke-linejoin="round" stroke-linecap="butt" />
<polyline points="776.37,482.2 776.37,484.87" fill="none" stroke="#262626" stroke-width="1.6" stroke-linejoin="round" stroke-linecap="butt" />
<polyline points="822.78,479.27 822.78,476.83" fill="none" stroke="#262626" stroke-width="1.6" stroke-linejoin="round" stroke-linecap="butt" />
<polyline points="652.49,467.64 652.49,470.71" fill="none" stroke="#262626" stroke-width="1.6" stroke-linejoin="round" stroke-linecap="butt" />
<polyline points="344.42,425.56 344.42,422.27" fill="none" stroke="#262626" stroke-width="1.6" stroke-linejoin="round" stroke-linecap="butt" />
<polyline points="592.11,450.41 592.11,446.84" fill="none" stroke="#262626" stroke-width="1.6" stroke-linejoin="round" stroke-linecap="butt" />
<polyline points="943.72,488.68 943.72,486.16" fill="none" stroke="#262626" stroke-width="1.6" stroke-linejoin="round" stroke-linecap="butt" />
<polyline points="859.43,491.84 859.43,495.34" fill="none" stroke="#262626" stroke-width="1.6" stroke-linejoin="round" stroke-linecap="butt" />
<polyline points="754.82,481.3 754.82,483.16" fill="none" stroke="#262626" stroke-width="1.6" stroke-linejoin="round" stroke-linecap="butt" />
<polygon points="265.5,395.65 267.02,397.24 268.53,398.29 270.05,399.76 271.57,398.94 273.09,398.85 274.6,398.32 276.12,399.55 277.64,399.01 279.16,398.56 280.67,399.27 282.19,398.88 283.71,399.36 285.22,398.79 286.74,398.2 288.26,397.47 289.78,397.58 291.29,397.6 292.81,397.49 294.33,396.35 295.84,397.41 297.36,395.8 298.88,395.43 300.4,396.28 301.91,395.56 303.43,395.24 304.95,395.98 306.47,394.7 307.98,395.63 309.5,395.66 309.5,408.48 307.98,409.66 306.47,408.81 304.95,410.23 303.43,410.28 301.91,410.96 300.4,412.4 298.88,411.45 297.36,411.1 295.84,411.29 294.33,411.55 292.81,411.26 291.29,411.79 289.78,412.37 288.26,411.37 286.74,412.78 285.22,412.45 283.71,412.7 282.19,413.47 280.67,413.66 279.16,412.62 277.64,413.81 276.12,413.02 274.6,412.19 273.09,412.77 271.57,412.58 270.05,411.79 268.53,412.21 267.02,411.37 265.5,410.9" fill="#262626" />
<polyline points="308.6,396 308.6,440" fill="none" stroke="#262626" stroke-width="4.2" stroke-linejoin="round" stroke-linecap="butt" />
<polyline points="265.8,346.01 267.43,347.25 269.07,345.66 270.7,346.62 272.33,345.42 273.97,345.63 275.6,346.9 277.23,345.39 278.87,346.09 280.5,345.68 282.13,345.58 283.77,345.57 285.4,344.95 287.03,346.01 288.67,344.59 290.3,344.77 291.93,344.3 293.57,344.66 295.2,344.83 296.83,345.64 298.47,344.62 300.1,344.05 301.73,344.23 303.37,345.47 305,343.71 305.2,342.92 305.4,340.68 305.6,339.39 305.8,337.01 306,335.84 307.6,335.47 309.21,335.72 310.81,336.14 312.42,335.54 314.02,334.73 315.63,334.56 317.23,336.12 318.83,335.27 320.44,334.71 322.04,336.04 323.65,335.36 325.25,335.6 326.86,335.85 328.46,334.75 330.07,334.85 331.67,335.76 333.27,334.4 334.88,335.51 336.48,334.28 338.09,335.32 339.69,335.32 341.3,335.74 342.9,335.52 344.5,334.92 346.1,334.39 347.7,334.32 349.3,335.01 350.9,335 352.5,334.22 354.1,335.73 355.7,335.04 357.3,335.4 358.9,334.55 360.5,334.61 362.1,334.21 363.7,334.82 365.3,334.7 366.9,334.99 368.5,334.93 370.1,335.77 371.7,335.88 373.3,334.61 374.9,335.02 376.5,334.62 378.1,335.54 379.7,336.11 381.3,334.74 382.9,335.77 384.5,334.94 386.1,334.44 387.7,335.81 389.3,335.07 390.9,334.77 392.5,335.27 394.1,334.91 395.7,335.25 397.3,335.33 398.9,335.3 400.5,335.62 402.1,335.09 403.7,334.76 405.3,334.76 406.9,334.81 408.5,335.57 410.1,335.3 411.7,336.12 413.3,335.59 414.9,335.97 416.5,336.48 418.1,334.84 419.7,334.78 421.3,335.01 422.9,335.47 424.5,335.82 426.1,336.15 427.7,335.46 429.3,336.57 430.9,334.86 432.5,336.37 434.1,335.26 435.7,336.48 437.31,334.96 438.91,336.64 440.52,336.27 442.13,336.69 443.74,335.96 445.34,335.24 446.95,336.66 448.56,335.71 450.17,335.07 451.77,336.01 453.38,335.82 454.99,335.78 456.6,335.21 458.2,335.15 459.81,335.98 461.42,335.75 463.03,335.17 464.63,335.74 466.24,336.25 467.85,336.24 469.46,335.8 471.06,335.66 472.67,335.61 474.28,335.37 475.89,335.32 477.5,335.77 479.1,335.16 480.71,336.28 482.32,336.25 483.93,336.08 485.53,335.02 487.14,335.64 488.75,335.76 490.36,335.15 491.96,336.73 493.57,336.35 495.18,335.9 496.78,336.26 498.39,335.36 500,335.41 501.61,336.02 503.22,336.48 504.83,336.37 506.44,335.29 508.06,336.45 509.67,337.05 511.28,336.82 512.89,337.23 514.5,337.39 516.11,336.1 517.72,336.3 519.33,336.82 520.94,337.66 522.56,336.64 524.17,337.74 525.78,337.64 527.39,337.11 529,337.38 530.61,338.04 532.22,337.8 533.83,336.99 535.44,338.05 537.06,336.95 538.67,337.33 540.28,338.46 541.89,338.33 543.5,337.44 545.11,337.47 546.72,338.12 548.33,338.6 549.94,338.38 551.56,338.91 553.17,338.6 554.78,338.84 556.39,338.52 558,338.15 559.61,338.29 561.22,338.43 562.83,338.53 564.44,339.11 566.06,338.11 567.67,337.77 569.28,338.99 570.89,338.19 572.5,338.48 574.11,337.96 575.72,339.27 577.33,338.29 578.94,338.35 580.56,339.3 582.17,338.78 583.78,338.4 585.39,339.52 587,338.69 588.61,338.63 590.22,339.74 591.83,339.45 593.44,339.4 595.06,338.52 596.67,339.56 598.28,339.2 599.89,339.64 601.5,338.84 603.11,339.61 604.72,339.65 606.33,338.95 607.94,339.45 609.56,339.7 611.17,340.11 612.78,340.01 614.39,339.79 616,338.65 617.61,339.58 619.22,339.8 620.83,338.81 622.43,339.57 624.04,340.38 625.65,340.53 627.26,340.65 628.87,339.23 630.48,340.24 632.08,340.79 633.69,340.49 635.3,339.98 636.91,339.55 638.52,341.22 640.12,341.2 641.73,340.91 643.34,340.48 644.95,341.39 646.56,341.45 648.17,341.37 649.77,341.23 651.38,340.81 652.99,340.85 654.6,341.04 656.21,341.11 657.83,341.58 659.44,340.97 661.05,342.18 662.66,341.63 664.27,341.41 665.89,341.7 667.5,342.07 669.11,342.26 670.73,343.02 672.34,341.91 673.95,342.25 675.56,342.5 677.17,342.41 678.79,343.56 680.4,342.53 682.01,342.55 683.62,343.58 685.24,344.02 686.85,344.3 688.46,343.94 690.07,343.65 691.69,344.77 693.3,344.63 694.91,344.28 696.52,344.55 698.14,345.33 699.75,345.56 701.36,345.56 702.97,344.24 704.59,344.7 706.2,344.97 707.81,344.65 709.42,345.84 711.04,344.69 712.65,346.3 714.26,345.87 715.88,346.04 717.49,345.8 719.1,346.85 720.71,346.32 722.33,347.01 723.94,347.18 725.55,346.88 727.16,347.52 728.77,346.75 730.39,346.64 732,347.62 733.65,347.23 735.29,347.01 736.94,347.85 738.59,347.66 740.24,347.21 741.88,348.67 743.53,348.24 745.18,349.26 746.82,348.65 748.47,349.55 750.12,348.56 751.76,348.61 753.41,349.34 755.06,349.95 756.71,350.23 758.35,350.09 760,349.32 761.62,349.95 763.24,349.45 764.86,350.19 766.48,351.37 768.11,350.44 769.73,351.21 771.35,351.21 772.97,350.49 774.59,351.62 776.21,350.66 777.83,351 779.45,351.85 781.07,351.18 782.69,352.83 784.32,352 785.94,352.51 787.56,353.25 789.18,351.85 790.8,353.6 792.43,352.03 794.06,353.2 795.7,353.46 797.33,354.21 798.96,353.24 800.59,354.46 802.22,354.09 803.86,353.94 805.49,353.55 807.12,353.82 808.75,354.22 810.38,354.34 812.02,354.55 813.65,355.49 815.28,354.87 816.91,355.49 818.54,354.59 820.18,354.93 821.81,356.12 823.44,356.6 825.07,355.72 826.7,355.38 828.34,355.9 829.97,356.29 831.6,356.46 833.23,357.01 834.86,356.75 836.5,357.58 838.13,358.03 839.76,358.23 841.39,358.36 843.02,358.28 844.66,357.9 846.29,359.15 847.92,358.36 849.55,359.59 851.18,359.05 852.82,359.58 854.45,359.55 856.08,360.04 857.71,359.68 859.34,360.31 860.98,360.8 862.61,360.33 864.24,360.96 865.87,360.91 867.5,361.13 869.14,361.18 870.77,361.68 872.4,362.18 874.01,361.73 875.63,362.19 877.24,363.92 878.86,363.12 880.47,364.9 882.09,365.35 883.7,364.89 885.31,366.16 886.93,365.98 888.54,367.63 890.16,366.91 891.77,367.28 893.39,367.65 895,369.39 896.41,369.27 897.82,370.23 899.22,372.21 900.63,372.56 902.04,373.35 903.45,373.84 904.85,374.75 906.26,374.4 907.67,376.62 909.08,376.54 910.48,378.27 911.89,378.26 913.3,379.94 914.76,379.1 916.21,381.66 917.67,380.87 919.13,382.42 920.59,383.17 922.04,384.88 923.5,385.19 924.96,386.47 926.41,387.13 927.87,387.07 929.33,387.37 930.79,388.16 932.24,389.98 933.7,391.21 934.91,391.79 936.12,392.31 937.33,393.85 938.54,395.05 939.75,395.41 940.95,397.29 942.16,397.49 943.37,398.28 944.58,399.43 945.79,401.29 947,402.75 948.08,403.18 949.17,404.76 950.25,406.57 951.33,407.07 952.42,408.82 953.5,410.24 954.58,411.16 955.67,412.08 956.75,414.22 957.83,415.51 958.92,415.87 960,418.25 961,419.28 962,420.96 963,422.1 964,422.89 965,424.59 966,425.17 967,427.08 968,427.35 969,429.12 970,430.71 971.11,432.57 972.22,433.39 973.33,434.97 974.44,436.08 975.56,437.44 976.67,437.98 977.78,439.15 978.89,440.07 980,440.8 981.25,442.87 982.5,443.57 983.75,443.8 985,444.98 986.25,445.99 987.5,447.93 988.75,448.74 990,449.06 991.25,451.11 992.5,452.06 993.75,452.7 995,454.2 996.25,456.36 997.5,456 998.75,457.35 1000,459.17 1001.25,460.65 1002.5,461.83 1003.75,461.93 1005,463.63 1006.25,463.5 1007.5,465.02 1008.75,466.9 1010,467.6 1011.43,468.22 1012.86,469.51 1014.29,470.32 1015.71,471.44 1017.14,473.06 1018.57,474.24 1020,473.86 1021.34,475.8 1022.67,477.08 1024.01,477.41 1025.35,478.15 1026.69,478.86 1028.03,480 1029.36,481.11 1030.7,482.1 1032.04,482.14 1033.38,484.67 1034.71,484.31 1036.05,485.74 1037.39,486.04 1038.73,487.76 1040.06,487.7 1041.4,489.1 1042.95,489.77 1044.51,490.23 1046.06,491.12 1047.61,491.11 1049.16,492.29 1050.72,493.43 1052.27,493.71 1053.82,494.91 1055.38,495.45 1056.93,495.18 1058.48,495.75 1060.04,496.86 1061.59,497.65 1063.14,497.63 1064.69,498.44 1066.25,499.06 1067.8,499.3" fill="none" stroke="#a3a3a3" stroke-width="5.2" stroke-linejoin="round" stroke-linecap="round" />
<polyline points="300.3,764.72 302.5,764.36 304.7,764.25 306.6,765.61 308.5,765.79 308.9,763.64 309.3,761.68 309.7,760.3 310.1,757.33 310.5,756.04 312.4,753.03 314.33,753.59 316.27,755.45 318.2,756.63 318.89,758.36 319.57,760.97 320.26,761.49 320.94,763.17 321.63,766.24 322.31,767.28 323,768.78 323.5,767.04 324,765.16 324.5,764.06 325,761.09 325.21,759.17 325.42,757.75 325.63,755.77 325.84,754.4 326.06,752.31 326.27,749.7 326.48,747.55 326.69,746.5 326.9,744.78 327.48,741.7 328.06,740.95 328.64,739.4 329.22,737.35 329.8,735.01 330.92,734.37 332.03,732.82 333.15,730.62 334.27,729.8 335.38,727.76 336.5,726.06 337.95,725.02 339.4,723.57 340.85,722.2 342.3,721.11 343.75,719.92 345.2,718.65 346.83,717.55 348.47,716.46 350.1,715.06 351.73,713.26 353.37,711.96 355,711.47 356.46,710.04 357.91,708.89 359.37,706.75 360.83,705.56 362.29,705.25 363.74,703.47 365.2,702.27 367.07,700.9 368.95,700.78 370.82,700.96 372.7,700.06 374.57,700 376.45,698.35 378.32,698.17 380.2,698.12 382.04,698.39 383.89,699.65 385.73,700.1 387.57,700.25 389.41,701 391.26,703 393.1,702.57 394.78,703.63 396.46,704.78 398.13,706.27 399.81,707.42 401.49,707.84 403.17,708.83 404.84,710.19 406.52,710.43 408.2,711.52 409.87,712.58 411.53,713.34 413.2,713.22 414.87,714.05 416.53,714.8 418.2,716.35 419.87,717.03 421.53,718.14 423.2,718.57 425.04,717.86 426.89,718.57 428.73,718.88 430.57,717.99 432.41,717.52 434.26,718.03 436.1,717.9 437.53,716.55 438.97,715.16 440.4,714.07 441.83,713.91 443.27,711.57 444.7,711.16 446.13,709.39 447.57,708.17 449,707.85 450.6,708.19 452.2,709.11 453.8,710.56 455.4,711.97 456.26,713.45 457.12,715.64 457.98,716.72 458.84,718.61 459.7,720.6 460.56,718.53 461.42,717.16 462.28,715.09 463.14,712.91 464,711.17 465.88,711.42 467.75,710.69 469.62,710.29 471.5,709.27 473.38,708.44 475.25,707.18 477.12,707.47 479,705.77 480.83,706.38 482.67,706.16 484.5,706.68 486.33,706.76 488.17,707.11 490,707.7 491.79,707.15 493.58,706.42 495.37,706.86 497.16,706.49 498.95,706.31 500.74,704.89 502.53,705.39 504.32,705.47 506.11,704.27 507.9,703.88 509.68,705.27 511.47,705.18 513.25,705.76 515.03,706.88 516.82,706.8 518.6,707.08 520.38,707.63 522.17,708.35 523.95,709.38 525.73,709.45 527.52,710.55 529.3,710.09 531.17,709.95 533.05,710.07 534.92,709.47 536.8,709.1 538.67,709.31 540.55,707.99 542.42,707.45 544.3,706.85 546.08,707.12 547.87,706.5 549.65,706.39 551.43,705.37 553.22,705.01 555,705.18 556.78,705.35 558.57,704.35 560.35,704.85 562.13,704.03 563.92,703.42 565.7,703.59 567.42,703.37 569.14,704.43 570.86,705.31 572.58,705.42 574.3,705.65 576.02,705.87 577.74,707.08 579.46,707.08 581.18,707.88 582.9,708.66 584.57,709.93 586.23,710.26 587.9,710.76 589.57,711.95 591.23,711.89 592.9,712.71 594.57,713.83 596.23,714.36 597.9,714.61 599.33,716.07 600.75,717.85 602.18,718.24 603.61,720.09 605.03,720.37 606.46,722.84 607.89,723.66 609.31,724.35 610.74,726.48 612.17,727.42 613.59,727.59 615.02,729.05 616.45,730.59 617.87,732.5 619.3,732.5 620.77,733.58 622.25,735.16 623.72,735.99 625.19,737.71 626.66,739.1 628.14,740.17 629.61,740.96 631.08,742.01 632.55,744.31 634.03,745.01 635.5,746.27 638.05,745.67 640.6,745.36 642.21,746.62 643.83,747.48 645.44,748.31 647.05,748.72 648.66,749.45 650.27,750.3 651.89,752.34 653.5,752.18 654.8,754.85 656.1,757.27 657.92,756.83 659.74,757.3 661.56,757.73 663.38,758.84 665.2,758.86 667,758.17 668.8,756.15 670.6,756.22 672.4,754.93 674.2,753.96 675.98,754.94 677.75,755.23 679.53,755.87 681.31,756.03 683.08,756.67 684.86,756.4 686.64,756.98 688.42,757.7 690.19,757.64 691.97,757.59 693.75,758.62 695.52,759.42 697.3,759.82 699.24,759.1 701.17,759.78 703.11,759.9 705.05,760.38 706.99,761.57 708.92,761.14 710.86,761.31 712.8,761.58 714.97,761.15 717.13,760.8 719.3,759.68 721.02,760.53 722.73,761.65 724.45,762.76 726.17,764.74 727.88,764.77 729.6,766.66 730.88,764.35 732.16,763.9 733.44,761.77 734.72,761.09 736,759.2 736.49,756.77 736.98,754.86 737.46,753.91 737.95,751.61 738.44,749.59 738.92,747.47 739.41,746.01 739.9,743.78 741.72,743.45 743.54,744.46 745.36,744.32 747.18,745.33 749,745.17 750.83,745.11 752.66,743.83 754.49,744.28 756.31,743.77 758.14,743.73 759.97,743.41 761.8,742.57 763.71,742.05 765.62,741.72 767.54,740.44 769.45,740.26 771.36,740.03 773.27,739.18 775.19,738.53 777.1,738.4 778.45,737.35 779.8,735.14 781.15,733.67 782.5,733.21 783.85,731.35 785.2,731.28 786.55,729.38 787.9,728.25 789.77,728.38 791.65,728.19 793.52,726.91 795.4,727.08 797.27,726.44 799.15,726.57 801.02,725.85 802.9,726.63 804.79,726.02 806.68,726.19 808.56,727.03 810.45,727.05 812.34,726.49 814.23,726.84 816.12,727.19 818.01,726.65 819.89,726.7 821.78,727.84 823.67,726.99 825.56,727.87 827.45,728.04 829.34,727.96 831.22,727.74 833.11,728.58 835,728.6 836.82,728.09 838.63,729.74 840.45,729.87 842.26,729.87 844.08,730.2 845.89,730.59 847.71,732.08 849.52,732.63 851.34,732.42 853.15,732.68 854.97,733.02 856.78,733.99 858.6,734.32 860.48,733.62 862.35,733.6 864.23,733.98 866.1,732.57 867.98,732.68 869.85,732.48 871.73,731.63 873.6,731.1 875.48,730.8 877.35,730.54 879.23,731.35 881.1,730.83 882.98,730.26 884.85,730.17 886.73,729.01 888.6,728.55 890.55,729.45 892.49,729.12 894.44,729.6 896.38,728.85 898.33,728.96 900.27,729.42 902.22,729.69 904.16,728.72 906.11,728.9 908.05,728.58 910,729.38 911.84,730.2 913.67,730.01 915.51,729.73 917.34,730.8 919.18,731.05 921.01,730.59 922.85,732.03 924.69,731.98 926.52,732.05 928.36,732.15 930.19,732.2 932.03,732.94 933.86,733.1 935.7,733.23 937.48,733.09 939.27,732.39 941.05,732.09 942.83,731.39 944.62,729.97 946.4,729.6 947.83,730.31 949.27,731.58 950.7,732.96 952.13,734.73 953.57,734.6 955,736.38 956.43,737.39 957.87,739.24 959.3,740.63 961.14,740.5 962.97,740.48 964.81,741.74 966.64,742.27 968.48,742.93 970.31,743.6 972.15,743.7 973.99,744.35 975.82,745.2 977.66,744.7 979.49,745.53 981.33,746.69 983.16,747.63 985,748.12 986.89,746.94 988.78,747.66 990.66,746.43 992.55,746.42 994.44,745.76 996.33,746.13 998.22,745.58 1000.11,745.74 1001.99,745.86 1003.88,744.45 1005.77,744.94 1007.66,744.61 1009.55,743.9 1011.44,743.31 1013.32,744.32 1015.21,743.73 1017.1,743.38 1018.91,742.65 1020.72,743.78 1022.53,743.09 1024.34,743.19 1026.15,743.33 1027.96,743.18 1029.77,743.9 1031.58,743.23 1033.39,743.53 1035.2,743.68 1037,743.91 1038.81,742.85 1040.62,743.1 1042.43,743.96 1044.24,743.49 1046.05,743.17 1047.86,743.9 1049.67,742.84 1051.48,743.04 1053.29,742.79 1055.1,743.64 1055.95,741.57 1056.8,739.5 1057.65,737.88 1058.5,735.8 1059.35,734.63 1060.2,732.89 1061.05,730.55 1061.9,729.42 1063.16,726.91 1064.42,726.29 1065.68,724.36 1066.94,722.96 1068.2,722.23 1069.46,720.22 1070.72,718.85 1071.98,717.59 1073.24,716.58 1074.5,715.86 1075.66,716.64 1076.82,717.95 1077.98,720.39 1079.14,722 1080.3,723.79 1081.84,723.43 1083.38,724.55 1084.92,725.89 1086.46,727.63 1088,727.96 1089.75,729.15 1091.51,728.93 1093.26,729.99 1095.02,731 1096.77,731.06 1098.53,732.19 1100.28,733.32 1102.04,734.01 1103.79,734.56 1105.55,735.45 1107.3,736.39 1109.02,736.49 1110.74,736.64 1112.47,737.24 1114.19,737.66 1115.91,739.51 1117.63,739.67 1119.36,740.36 1121.08,741.38 1122.8,741.77 1124.73,742.03 1126.66,742.99 1128.59,742.97 1130.51,743.9 1132.44,744.71 1134.37,746.03 1136.3,746.53 1136.84,744.72 1137.39,742.71 1137.93,740.93 1138.48,739.25 1139.02,737.06 1139.57,735.77 1140.11,734.82 1140.66,732.96 1141.2,730.45 1142.8,729.83 1144.4,729.21 1146,727.48 1147.75,728.41 1149.51,729.44 1151.26,729.59 1153.02,731.31 1154.77,730.77 1156.53,732.69 1158.28,733.1 1160.04,733.43 1161.79,733.99 1163.55,735.51 1165.3,736 1167,736.02 1168.7,736.89 1170.4,737.31 1172.1,738.6" fill="none" stroke="#7c7c7c" stroke-width="3.2" stroke-linejoin="round" stroke-linecap="round" />
<polyline points="300.3,766.88 300.57,764.8 300.84,762.67 301.11,761.06 301.39,758.44 301.66,756.45 301.93,753.61 302.2,751.81 302.7,749.58 303.2,746.69 303.7,744.54 305.15,742.78 306.6,740.57 308.05,738.5 309.5,737.56 310.13,734.69 310.77,732.34 311.4,730.83 311.64,728.81 311.88,726.68 312.12,724.66 312.36,721.78 312.6,719.53 312.84,717.44 313.08,716.17 313.32,713.17 313.56,711.09 313.8,708.82 314.47,706.62 315.13,704.37 315.8,702.45 316.6,704.5 317.4,706.88 318.2,709.73 318.31,711.11 318.42,713.9 318.53,715.97 318.64,717.95 318.76,720.1 318.87,722.44 318.98,724.4 319.09,726.18 319.2,728.43 320.02,730.52 320.85,732.85 321.68,735.61 322.5,737.23 322.71,739.08 322.93,741.71 323.14,744.26 323.36,746.1 323.57,748.57 323.79,750.18 324,752.36 324.38,755.08 324.76,756.59 325.14,758.96 325.52,761.16 325.9,763.09 328.47,762.3 331.03,761.64 333.6,761.95 335.54,761.11 337.48,760.79 339.42,759.75 341.36,759.63 343.3,758.96 345.25,757.75 347.2,756.69 349.15,755.71 351.1,754.46 353.05,753.64 355,753.02 356.9,751.69 358.8,751.53 360.7,750.38 362.6,749.67 364.5,749.08 366.4,748.09 368.3,746.77 370.2,746.08 372.1,745.02 374,744.24 375.9,744.35 377.85,743.21 379.81,742.81 381.76,741.84 383.72,740.59 385.67,740.46 387.63,739.63 389.58,738.38 391.54,737.23 393.49,736.68 395.45,735.75 397.4,735.17 399.2,733.45 401,732.65 402.8,731.48 404.6,729.28 406.4,728.41 408.2,726.78 409.9,725.18 411.6,724.11 413.3,722.08 415,721.02 416.7,718.73 418.82,718.59 420.95,716.73 423.07,715.48 425.2,715.28 426.47,712.79 427.73,710.41 429,708.17 429.58,705.77 430.16,703.49 430.73,701.68 431.31,700.31 431.89,698.33 432.47,695.56 433.04,693.76 433.62,691.76 434.2,690.2 434.77,687.31 435.33,686.13 435.9,683.55 436.47,681.85 437.03,679.43 437.6,677.38 438.17,676.18 438.73,673.8 439.3,672.27 439.8,670.02 440.3,667.76 440.8,664.94 441.3,663.31 441.8,661.57 442.3,658.94 442.8,656.35 443.3,654.33 443.8,652.99 443.98,650.88 444.15,648.05 444.32,646.02 444.5,644.31 447.7,645.41 449,641.89 449.25,640.62 449.5,638.2 449.75,635.89 450,633.48 450.25,631.91 450.5,630.09 450.75,627.46 451,625.31 451.25,623.88 451.5,622.02 452.15,619.53 452.8,617.67 453.47,620 454.13,622.05 454.8,623.83 455.37,625.91 455.93,627.77 456.5,629.7 456.79,631.73 457.07,634.18 457.36,636.15 457.64,638.92 457.93,640.54 458.21,643.32 458.5,645.31 458.71,646.91 458.93,648.94 459.14,651.5 459.36,653.55 459.57,655.75 459.79,657.48 460,660.03 460.2,662.26 460.4,663.95 460.6,665.76 460.8,668.42 461,669.8 461.2,672.5 461.4,674.19 461.6,675.5 461.8,677.95 462,679.65 462.15,682.29 462.3,683.92 462.45,685.59 462.6,688.45 462.75,690.3 462.9,692.11 463.05,694.07 463.2,695.57 463.35,698.48 463.5,699.8 463.68,702.02 463.87,703.99 464.05,705.97 464.23,707.52 464.42,710.39 464.6,711.99 466.4,714.19 468.1,715.96 469.8,717.26 471.5,718.42 474.05,719.86 476.6,720.55 478.43,719.34 480.27,718.61 482.1,717.9 483.93,717.12 485.77,716.1 487.6,715.03 490.7,715.1 492.48,716.23 494.27,717.21 496.05,717.72 497.83,719.31 499.62,720.11 501.4,720.97 503.55,721.94 505.7,722.6 507.85,722.47 510,723.29 512.15,723.68 514.3,724.16 516.45,724.78 518.6,725.04 520.75,724.85 522.9,725.82 525.04,725.99 527.18,726.5 529.32,727.19 531.46,727.13 533.6,728.03 535.74,727.57 537.89,725.93 540.03,725.94 542.17,725.02 544.31,723.95 546.46,723.54 548.6,722.08 550.73,722.34 552.87,723.36 555,723.17 557.13,722.9 559.27,723.05 561.4,723.55 562.48,721.77 563.55,720.34 564.62,717.66 565.7,716.24 566.77,714.17 567.85,712.41 568.92,710.92 570,708.22 572.15,709.44 574.3,709.83 576.08,710.62 577.87,711.72 579.65,713.6 581.43,714.95 583.22,715.7 585,716.74 586.72,716.1 588.44,715.15 590.16,713.78 591.88,712.77 593.6,711.4 595.41,710.29 597.22,709.21 599.02,708.6 600.83,706.81 602.64,705.73 604.45,704.84 606.25,703.43 608.06,702.31 609.87,701.65 611.68,700 613.48,699.17 615.29,697.54 617.1,696.82 619.24,697.64 621.38,698.03 623.52,698.41 625.66,698.89 627.8,699.78 628.88,698.09 629.96,695.96 631.04,694.47 632.12,692.73 633.2,690.46 634.28,689.24 635.36,687.72 636.44,685.64 637.52,683.57 638.6,682.13 640.73,681.71 642.87,681.18 645,680.65 647.13,679.93 649.27,679.58 651.4,678.86 653.55,680.02 655.7,681.43 657.13,679.65 658.57,677.74 660,675.17 661.72,676.76 663.44,677.98 665.16,679.44 666.88,681.16 668.6,683.25 669.44,684.38 670.28,686.39 671.12,688.56 671.96,691.05 672.8,692.22 674.95,691.69 677.1,691.35 679.25,691.29 681.4,690.61 683.55,690.92 685.7,689.96 687.85,690.89 690,691.58 692.15,692.57 694.3,693.19 695.83,694.64 697.36,696.04 698.89,697.45 700.41,699.22 701.94,700.33 703.47,701.54 705,702.71 706.07,705.35 707.13,707.12 708.2,709 709.27,710.54 710.33,712.05 711.4,713.73 713,714.94 714.6,716.54 716.2,717.87 717.8,719.74 719.52,717.72 721.24,716.94 722.96,715.69 724.68,714.34 726.4,713.01 727.57,714.19 728.75,716.04 729.92,718.15 731.09,719.99 732.26,722.09 733.44,723.66 734.61,724.83 735.78,726.51 736.95,728.88 738.13,729.87 739.3,732.51 740.83,730.16 742.36,729.14 743.89,727.86 745.41,725.57 746.94,724.06 748.47,723.06 750,721.62 752.15,720.66 754.3,720.87 756.45,720.94 758.6,720.68 760.67,720.42 762.75,720.16 764.82,720.9 766.89,720.95 768.96,720.96 771.04,721.26 773.11,721.38 775.18,721.4 777.25,721.59 779.33,721.73 781.4,722.07 783.55,721.66 785.7,720.46 787.85,720.79 790,719.82 792.15,719.57 794.3,718.94 796.45,718.6 798.6,718.26 800.75,717.88 802.9,717.11 805.03,716.76 807.17,716.39 809.3,715.79 811.43,715.4 813.57,714.4 815.7,714.36 817.13,712.91 818.57,710.94 820,708.96 821.43,710.64 822.87,711.65 824.3,712.88 826.44,712.88 828.58,712.08 830.72,711.68 832.86,711.75 835,711.06 837.14,710.29 839.28,709.91 841.42,709.99 843.56,709.48 845.7,709.3 847.84,709.36 849.98,709.12 852.12,709.76 854.26,710.16 856.4,710.38 858.12,711.69 859.84,712.2 861.56,713.59 863.28,714.79 865,716.72 867.14,715.95 869.28,715.18 871.42,714.18 873.56,713.75 875.7,713.39 877.83,712.37 879.97,712.86 882.1,712.3 883.53,714.29 884.97,716.15 886.4,717.52 888.37,716.85 890.33,716.48 892.3,716.14 894.27,715.81 896.23,715.02 898.2,714.59 900.17,714.36 902.13,714.14 904.1,712.96 906.07,713.4 908.03,712.7 910,712.1 912.14,711.63 914.27,711.37 916.41,710.45 918.55,709.83 920.69,709.07 922.83,708.78 924.96,707.99 927.1,707.65 929.27,708.37 931.43,708.42 933.6,709.31 934.65,711.02 935.7,713.54 936.75,715.06 937.8,717.98 939.73,718.39 941.66,718.98 943.59,719.43 945.52,719.68 947.45,719.85 949.38,721.08 951.31,721.74 953.24,721.78 955.17,722.63 957.1,723.03 958.82,721.87 960.54,720.71 962.26,719.15 963.98,717.34 965.7,716.34 967.83,717.88 969.97,718.99 972.1,720.91 973.17,722.4 974.25,724.04 975.33,726.18 976.4,728.43 978.54,728.41 980.69,728.18 982.83,728.35 984.98,728.7 987.12,728.94 989.27,728.27 991.41,728.44 993.56,728.74 995.7,728.62 997.84,728.19 999.98,727.92 1002.12,727.37 1004.26,726.88 1006.4,726.88 1008.54,726.5 1010.68,726.29 1012.82,726.21 1014.96,725.83 1017.1,724.98 1019.25,724.11 1021.4,723.78 1023.55,722.94 1025.7,722.42 1027.85,722.09 1030,721.26 1031.83,720.22 1033.66,718.77 1035.49,717.45 1037.31,716.41 1039.14,714.88 1040.97,713.62 1042.8,712.27 1044.83,711.64 1046.85,710.28 1048.88,709.22 1050.9,708.51 1052.92,707.17 1054.95,706.84 1056.97,705.65 1059,704.56 1060.9,703.98 1061.48,705.93 1062.06,707.75 1062.64,709.37 1063.22,711.5 1063.8,712.91 1064.58,711.39 1065.36,709.08 1066.14,707.74 1066.92,705.3 1067.7,703.53 1070.6,703.58 1073.5,703.01 1074.95,703.97 1076.4,705.23 1076.98,708.1 1077.56,709.51 1078.14,711.08 1078.72,713.48 1079.3,715.72 1081.7,714.99 1084.1,714.19 1085.4,716.68 1086.7,718.8 1088,721.65 1088.97,719.4 1089.93,716.71 1090.9,715.01 1091.87,713.11 1092.83,710.4 1093.8,708.24 1095.08,706.74 1096.37,704.87 1097.65,702.72 1098.93,700.91 1100.22,699.03 1101.5,697.2 1101.95,694.49 1102.39,692.62 1102.84,690.32 1103.28,688.29 1103.73,686.87 1104.17,684.47 1104.62,682.57 1105.06,680.03 1105.51,677.73 1105.95,675.49 1106.4,674.07 1106.64,672.07 1106.88,669.85 1107.12,667.25 1107.37,665.7 1107.61,663.73 1107.85,661.06 1108.09,659.15 1108.33,657.55 1108.58,654.68 1108.82,653.04 1109.06,651.07 1109.3,648.77 1109.66,647.05 1110.03,644.58 1110.39,642.17 1110.75,640.31 1111.11,638.2 1111.47,636.33 1111.84,634.14 1112.2,632.53 1112.5,634.59 1112.8,637.03 1113.1,639.1 1116,638.57 1118.9,638.68 1120.85,637.67 1122.8,637.32 1124.1,638.56 1125.4,640.62 1126.7,642.29 1128.6,644.2 1130.5,645.96 1131.14,647.57 1131.79,649.45 1132.43,651.89 1133.08,654.23 1133.72,656.35 1134.37,657.58 1135.01,659.59 1135.66,661.98 1136.3,664.21 1137.03,665.87 1137.75,668.19 1138.47,670.21 1139.2,672.23 1139.48,674.33 1139.76,675.57 1140.04,678.34 1140.31,679.47 1140.59,682.01 1140.87,684.18 1141.15,685.52 1141.43,687.67 1141.71,690.08 1141.99,691.83 1142.26,693.51 1142.54,695.45 1142.82,698.01 1143.1,699.54 1143.95,697.74 1144.8,696.04 1145.65,694.5 1146.5,692.23 1147.35,690.67 1148.2,688.81 1149.05,686.97 1149.9,685.65 1150.87,683.43 1151.83,681.82 1152.8,680.03 1153.77,678.11 1154.73,675.47 1155.7,673.98 1156.67,671.5 1157.63,669.47 1158.6,668.13 1159.57,666.1 1160.53,663.8 1161.5,661.99 1162.29,660.57 1163.08,658.62 1163.87,656.27 1164.66,655.18 1165.45,652.49 1166.25,651.03 1167.04,649.39 1167.83,647.18 1168.62,645.25 1169.41,643.77 1170.2,641.9" fill="none" stroke="#252525" stroke-width="3.6" stroke-linejoin="round" stroke-linecap="round" />
</svg>
</body></html>
